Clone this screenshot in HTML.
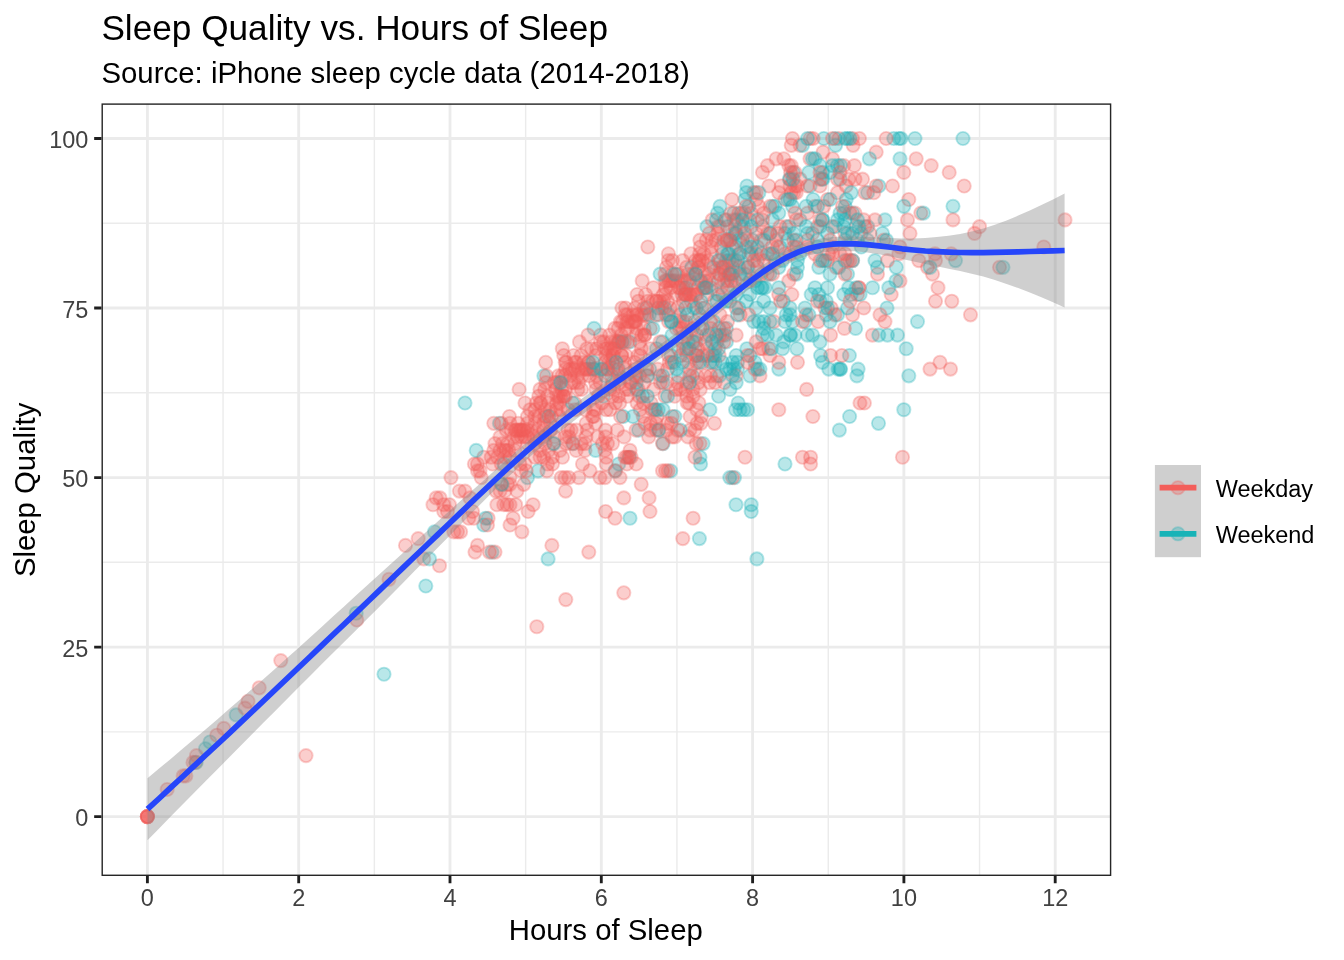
<!DOCTYPE html><html><head><meta charset="utf-8"><title>Sleep Quality vs. Hours of Sleep</title>
<style>html,body{margin:0;padding:0;background:#fff}svg{display:block}text{font-family:"Liberation Sans",sans-serif}.r{fill:#F35E5A;stroke:#F35E5A}.t{fill:#18B1B5;stroke:#18B1B5}.p circle{fill-opacity:.3;stroke-opacity:.3;stroke-width:1.89}.tk{font-size:23.47px;fill:#414141}</style></head><body>
<svg width="1344" height="960" viewBox="0 0 1344 960">
<rect width="1344" height="960" fill="#fff"/>
<defs><clipPath id="cp"><rect x="101.50" y="103.40" width="1009.80" height="772.60"/></clipPath></defs>
<g clip-path="url(#cp)">
<path d="M223.05 103.40V876.00M374.35 103.40V876.00M525.65 103.40V876.00M676.95 103.40V876.00M828.25 103.40V876.00M979.55 103.40V876.00M101.50 731.84H1111.30M101.50 562.31H1111.30M101.50 392.79H1111.30M101.50 223.26H1111.30" stroke="#EBEBEB" stroke-width="1.42" fill="none"/>
<path d="M147.40 103.40V876.00M298.70 103.40V876.00M450.00 103.40V876.00M601.30 103.40V876.00M752.60 103.40V876.00M903.90 103.40V876.00M1055.20 103.40V876.00M101.50 816.60H1111.30M101.50 647.08H1111.30M101.50 477.55H1111.30M101.50 308.03H1111.30M101.50 138.50H1111.30" stroke="#EBEBEB" stroke-width="2.85" fill="none"/>
<g class="p">
<circle class="t" cx="663.0" cy="382.6" r="6.63"/>
<circle class="t" cx="750.0" cy="375.8" r="6.63"/>
<circle class="r" cx="669.2" cy="362.3" r="6.63"/>
<circle class="r" cx="907.5" cy="219.9" r="6.63"/>
<circle class="t" cx="730.0" cy="369.1" r="6.63"/>
<circle class="r" cx="457.5" cy="531.8" r="6.63"/>
<circle class="r" cx="696.7" cy="335.1" r="6.63"/>
<circle class="r" cx="624.1" cy="436.9" r="6.63"/>
<circle class="r" cx="695.5" cy="260.6" r="6.63"/>
<circle class="t" cx="837.6" cy="314.8" r="6.63"/>
<circle class="r" cx="751.2" cy="213.1" r="6.63"/>
<circle class="r" cx="575.1" cy="409.7" r="6.63"/>
<circle class="r" cx="898.8" cy="253.8" r="6.63"/>
<circle class="r" cx="644.0" cy="328.4" r="6.63"/>
<circle class="r" cx="600.7" cy="335.1" r="6.63"/>
<circle class="r" cx="727.5" cy="280.9" r="6.63"/>
<circle class="r" cx="586.2" cy="423.3" r="6.63"/>
<circle class="r" cx="792.5" cy="138.5" r="6.63"/>
<circle class="t" cx="882.5" cy="233.4" r="6.63"/>
<circle class="r" cx="705.3" cy="375.8" r="6.63"/>
<circle class="t" cx="847.6" cy="274.1" r="6.63"/>
<circle class="t" cx="742.5" cy="240.2" r="6.63"/>
<circle class="r" cx="712.7" cy="362.3" r="6.63"/>
<circle class="r" cx="837.5" cy="192.7" r="6.63"/>
<circle class="r" cx="561.2" cy="477.6" r="6.63"/>
<circle class="r" cx="570.3" cy="375.8" r="6.63"/>
<circle class="t" cx="917.5" cy="321.6" r="6.63"/>
<circle class="r" cx="770.0" cy="355.5" r="6.63"/>
<circle class="r" cx="704.1" cy="287.7" r="6.63"/>
<circle class="r" cx="593.2" cy="369.1" r="6.63"/>
<circle class="t" cx="670.7" cy="470.8" r="6.63"/>
<circle class="r" cx="597.8" cy="436.9" r="6.63"/>
<circle class="t" cx="710.3" cy="362.3" r="6.63"/>
<circle class="r" cx="472.5" cy="511.5" r="6.63"/>
<circle class="r" cx="852.5" cy="260.6" r="6.63"/>
<circle class="r" cx="717.9" cy="226.7" r="6.63"/>
<circle class="r" cx="600.0" cy="477.6" r="6.63"/>
<circle class="t" cx="756.9" cy="558.9" r="6.63"/>
<circle class="r" cx="768.8" cy="186.0" r="6.63"/>
<circle class="t" cx="821.9" cy="179.2" r="6.63"/>
<circle class="t" cx="715.0" cy="355.5" r="6.63"/>
<circle class="r" cx="627.4" cy="314.8" r="6.63"/>
<circle class="t" cx="800.0" cy="219.9" r="6.63"/>
<circle class="r" cx="552.5" cy="457.2" r="6.63"/>
<circle class="r" cx="595.8" cy="369.1" r="6.63"/>
<circle class="t" cx="499.4" cy="423.3" r="6.63"/>
<circle class="t" cx="722.5" cy="267.3" r="6.63"/>
<circle class="r" cx="716.8" cy="375.8" r="6.63"/>
<circle class="r" cx="857.5" cy="240.2" r="6.63"/>
<circle class="r" cx="562.1" cy="375.8" r="6.63"/>
<circle class="t" cx="818.8" cy="267.3" r="6.63"/>
<circle class="r" cx="593.6" cy="409.7" r="6.63"/>
<circle class="r" cx="493.8" cy="423.3" r="6.63"/>
<circle class="r" cx="795.0" cy="186.0" r="6.63"/>
<circle class="t" cx="684.7" cy="294.5" r="6.63"/>
<circle class="r" cx="650.3" cy="328.4" r="6.63"/>
<circle class="r" cx="800.0" cy="145.3" r="6.63"/>
<circle class="r" cx="619.6" cy="375.8" r="6.63"/>
<circle class="t" cx="663.1" cy="443.6" r="6.63"/>
<circle class="t" cx="715.0" cy="348.7" r="6.63"/>
<circle class="r" cx="617.3" cy="430.1" r="6.63"/>
<circle class="t" cx="820.1" cy="301.2" r="6.63"/>
<circle class="r" cx="459.4" cy="491.1" r="6.63"/>
<circle class="t" cx="867.6" cy="192.7" r="6.63"/>
<circle class="r" cx="683.4" cy="287.7" r="6.63"/>
<circle class="r" cx="627.5" cy="396.2" r="6.63"/>
<circle class="r" cx="666.7" cy="430.1" r="6.63"/>
<circle class="t" cx="772.6" cy="206.3" r="6.63"/>
<circle class="r" cx="733.8" cy="219.9" r="6.63"/>
<circle class="r" cx="592.5" cy="416.5" r="6.63"/>
<circle class="r" cx="865.0" cy="192.7" r="6.63"/>
<circle class="t" cx="727.5" cy="226.7" r="6.63"/>
<circle class="r" cx="543.7" cy="423.3" r="6.63"/>
<circle class="t" cx="755.0" cy="362.3" r="6.63"/>
<circle class="r" cx="761.2" cy="240.2" r="6.63"/>
<circle class="t" cx="573.1" cy="443.6" r="6.63"/>
<circle class="t" cx="790.0" cy="308.0" r="6.63"/>
<circle class="r" cx="853.1" cy="145.3" r="6.63"/>
<circle class="t" cx="728.9" cy="260.6" r="6.63"/>
<circle class="r" cx="662.5" cy="443.6" r="6.63"/>
<circle class="t" cx="878.5" cy="423.3" r="6.63"/>
<circle class="t" cx="840.6" cy="369.1" r="6.63"/>
<circle class="r" cx="585.4" cy="409.7" r="6.63"/>
<circle class="t" cx="527.5" cy="477.6" r="6.63"/>
<circle class="t" cx="734.5" cy="477.6" r="6.63"/>
<circle class="t" cx="434.5" cy="531.8" r="6.63"/>
<circle class="r" cx="687.2" cy="403.0" r="6.63"/>
<circle class="t" cx="688.3" cy="341.9" r="6.63"/>
<circle class="r" cx="680.0" cy="321.6" r="6.63"/>
<circle class="r" cx="559.5" cy="403.0" r="6.63"/>
<circle class="r" cx="793.8" cy="274.1" r="6.63"/>
<circle class="r" cx="547.5" cy="464.0" r="6.63"/>
<circle class="t" cx="671.0" cy="355.5" r="6.63"/>
<circle class="r" cx="852.5" cy="314.8" r="6.63"/>
<circle class="t" cx="638.6" cy="430.1" r="6.63"/>
<circle class="r" cx="611.8" cy="375.8" r="6.63"/>
<circle class="r" cx="405.5" cy="545.4" r="6.63"/>
<circle class="r" cx="655.6" cy="409.7" r="6.63"/>
<circle class="r" cx="702.2" cy="260.6" r="6.63"/>
<circle class="t" cx="704.6" cy="308.0" r="6.63"/>
<circle class="r" cx="693.7" cy="308.0" r="6.63"/>
<circle class="r" cx="535.0" cy="457.2" r="6.63"/>
<circle class="r" cx="423.8" cy="558.9" r="6.63"/>
<circle class="t" cx="750.0" cy="355.5" r="6.63"/>
<circle class="t" cx="695.8" cy="341.9" r="6.63"/>
<circle class="r" cx="707.4" cy="348.7" r="6.63"/>
<circle class="r" cx="568.1" cy="409.7" r="6.63"/>
<circle class="r" cx="638.3" cy="389.4" r="6.63"/>
<circle class="t" cx="763.8" cy="328.4" r="6.63"/>
<circle class="t" cx="730.1" cy="240.2" r="6.63"/>
<circle class="t" cx="732.4" cy="260.6" r="6.63"/>
<circle class="t" cx="878.9" cy="186.0" r="6.63"/>
<circle class="r" cx="757.5" cy="247.0" r="6.63"/>
<circle class="r" cx="195.6" cy="762.4" r="6.63"/>
<circle class="r" cx="832.5" cy="158.8" r="6.63"/>
<circle class="t" cx="867.6" cy="226.7" r="6.63"/>
<circle class="r" cx="589.9" cy="369.1" r="6.63"/>
<circle class="t" cx="690.1" cy="280.9" r="6.63"/>
<circle class="r" cx="656.0" cy="430.1" r="6.63"/>
<circle class="t" cx="629.5" cy="457.2" r="6.63"/>
<circle class="t" cx="703.1" cy="443.6" r="6.63"/>
<circle class="r" cx="603.0" cy="369.1" r="6.63"/>
<circle class="r" cx="619.7" cy="403.0" r="6.63"/>
<circle class="t" cx="855.6" cy="328.4" r="6.63"/>
<circle class="r" cx="750.0" cy="219.9" r="6.63"/>
<circle class="t" cx="738.8" cy="240.2" r="6.63"/>
<circle class="t" cx="823.8" cy="138.5" r="6.63"/>
<circle class="r" cx="543.8" cy="457.2" r="6.63"/>
<circle class="t" cx="846.2" cy="199.5" r="6.63"/>
<circle class="r" cx="681.1" cy="280.9" r="6.63"/>
<circle class="t" cx="845.1" cy="206.3" r="6.63"/>
<circle class="t" cx="797.5" cy="260.6" r="6.63"/>
<circle class="r" cx="675.3" cy="280.9" r="6.63"/>
<circle class="r" cx="873.8" cy="192.7" r="6.63"/>
<circle class="r" cx="908.8" cy="199.5" r="6.63"/>
<circle class="r" cx="891.2" cy="294.5" r="6.63"/>
<circle class="r" cx="468.8" cy="518.2" r="6.63"/>
<circle class="r" cx="582.3" cy="375.8" r="6.63"/>
<circle class="r" cx="147.4" cy="816.6" r="6.63"/>
<circle class="t" cx="845.0" cy="240.2" r="6.63"/>
<circle class="r" cx="548.5" cy="403.0" r="6.63"/>
<circle class="r" cx="763.8" cy="213.1" r="6.63"/>
<circle class="t" cx="538.1" cy="470.8" r="6.63"/>
<circle class="t" cx="646.5" cy="308.0" r="6.63"/>
<circle class="t" cx="594.0" cy="328.4" r="6.63"/>
<circle class="r" cx="702.5" cy="362.3" r="6.63"/>
<circle class="r" cx="554.6" cy="436.9" r="6.63"/>
<circle class="r" cx="836.2" cy="267.3" r="6.63"/>
<circle class="r" cx="902.5" cy="457.2" r="6.63"/>
<circle class="t" cx="713.6" cy="267.3" r="6.63"/>
<circle class="r" cx="589.3" cy="375.8" r="6.63"/>
<circle class="r" cx="827.6" cy="260.6" r="6.63"/>
<circle class="t" cx="823.0" cy="179.2" r="6.63"/>
<circle class="r" cx="492.5" cy="464.0" r="6.63"/>
<circle class="r" cx="720.0" cy="226.7" r="6.63"/>
<circle class="t" cx="903.8" cy="206.3" r="6.63"/>
<circle class="r" cx="443.8" cy="511.5" r="6.63"/>
<circle class="t" cx="790.6" cy="335.1" r="6.63"/>
<circle class="t" cx="807.5" cy="335.1" r="6.63"/>
<circle class="r" cx="823.8" cy="206.3" r="6.63"/>
<circle class="r" cx="883.8" cy="240.2" r="6.63"/>
<circle class="r" cx="585.0" cy="450.4" r="6.63"/>
<circle class="r" cx="637.1" cy="403.0" r="6.63"/>
<circle class="r" cx="649.1" cy="497.9" r="6.63"/>
<circle class="t" cx="852.6" cy="260.6" r="6.63"/>
<circle class="t" cx="747.5" cy="409.7" r="6.63"/>
<circle class="t" cx="802.6" cy="145.3" r="6.63"/>
<circle class="r" cx="636.5" cy="328.4" r="6.63"/>
<circle class="r" cx="605.2" cy="362.3" r="6.63"/>
<circle class="r" cx="571.2" cy="382.6" r="6.63"/>
<circle class="r" cx="618.5" cy="396.2" r="6.63"/>
<circle class="t" cx="678.3" cy="348.7" r="6.63"/>
<circle class="r" cx="791.2" cy="192.7" r="6.63"/>
<circle class="t" cx="852.6" cy="213.1" r="6.63"/>
<circle class="r" cx="815.0" cy="253.8" r="6.63"/>
<circle class="r" cx="665.0" cy="396.2" r="6.63"/>
<circle class="r" cx="581.2" cy="443.6" r="6.63"/>
<circle class="r" cx="638.4" cy="301.2" r="6.63"/>
<circle class="r" cx="185.8" cy="775.9" r="6.63"/>
<circle class="r" cx="699.7" cy="253.8" r="6.63"/>
<circle class="r" cx="595.7" cy="355.5" r="6.63"/>
<circle class="r" cx="815.0" cy="206.3" r="6.63"/>
<circle class="t" cx="955.5" cy="260.6" r="6.63"/>
<circle class="r" cx="810.1" cy="138.5" r="6.63"/>
<circle class="t" cx="840.1" cy="179.2" r="6.63"/>
<circle class="t" cx="785.0" cy="464.0" r="6.63"/>
<circle class="r" cx="838.8" cy="138.5" r="6.63"/>
<circle class="r" cx="521.2" cy="430.1" r="6.63"/>
<circle class="t" cx="838.9" cy="267.3" r="6.63"/>
<circle class="r" cx="701.4" cy="416.5" r="6.63"/>
<circle class="t" cx="384.0" cy="674.2" r="6.63"/>
<circle class="t" cx="686.0" cy="287.7" r="6.63"/>
<circle class="r" cx="746.2" cy="247.0" r="6.63"/>
<circle class="t" cx="603.2" cy="396.2" r="6.63"/>
<circle class="t" cx="770.1" cy="233.4" r="6.63"/>
<circle class="r" cx="999.5" cy="267.3" r="6.63"/>
<circle class="t" cx="686.3" cy="348.7" r="6.63"/>
<circle class="r" cx="488.1" cy="518.2" r="6.63"/>
<circle class="r" cx="509.4" cy="416.5" r="6.63"/>
<circle class="r" cx="732.5" cy="477.6" r="6.63"/>
<circle class="r" cx="756.2" cy="199.5" r="6.63"/>
<circle class="r" cx="700.1" cy="328.4" r="6.63"/>
<circle class="r" cx="827.5" cy="199.5" r="6.63"/>
<circle class="r" cx="535.0" cy="409.7" r="6.63"/>
<circle class="r" cx="682.1" cy="294.5" r="6.63"/>
<circle class="r" cx="439.5" cy="565.7" r="6.63"/>
<circle class="r" cx="810.0" cy="158.8" r="6.63"/>
<circle class="r" cx="677.7" cy="308.0" r="6.63"/>
<circle class="t" cx="465.0" cy="403.0" r="6.63"/>
<circle class="r" cx="544.8" cy="436.9" r="6.63"/>
<circle class="r" cx="704.0" cy="253.8" r="6.63"/>
<circle class="t" cx="805.1" cy="321.6" r="6.63"/>
<circle class="r" cx="762.6" cy="348.7" r="6.63"/>
<circle class="r" cx="691.1" cy="301.2" r="6.63"/>
<circle class="r" cx="550.5" cy="430.1" r="6.63"/>
<circle class="r" cx="862.5" cy="179.2" r="6.63"/>
<circle class="r" cx="660.1" cy="375.8" r="6.63"/>
<circle class="r" cx="672.1" cy="274.1" r="6.63"/>
<circle class="r" cx="688.0" cy="436.9" r="6.63"/>
<circle class="r" cx="680.1" cy="314.8" r="6.63"/>
<circle class="r" cx="935.5" cy="260.6" r="6.63"/>
<circle class="r" cx="892.5" cy="186.0" r="6.63"/>
<circle class="r" cx="663.3" cy="294.5" r="6.63"/>
<circle class="r" cx="533.1" cy="504.7" r="6.63"/>
<circle class="r" cx="778.8" cy="409.7" r="6.63"/>
<circle class="t" cx="593.5" cy="369.1" r="6.63"/>
<circle class="t" cx="629.8" cy="341.9" r="6.63"/>
<circle class="t" cx="843.8" cy="294.5" r="6.63"/>
<circle class="r" cx="595.5" cy="423.3" r="6.63"/>
<circle class="t" cx="738.1" cy="403.0" r="6.63"/>
<circle class="r" cx="689.2" cy="294.5" r="6.63"/>
<circle class="t" cx="733.9" cy="213.1" r="6.63"/>
<circle class="r" cx="501.2" cy="423.3" r="6.63"/>
<circle class="t" cx="845.0" cy="260.6" r="6.63"/>
<circle class="r" cx="503.8" cy="504.7" r="6.63"/>
<circle class="r" cx="831.2" cy="308.0" r="6.63"/>
<circle class="t" cx="712.7" cy="355.5" r="6.63"/>
<circle class="r" cx="513.8" cy="436.9" r="6.63"/>
<circle class="r" cx="682.3" cy="341.9" r="6.63"/>
<circle class="t" cx="1003.0" cy="267.3" r="6.63"/>
<circle class="t" cx="210.0" cy="742.0" r="6.63"/>
<circle class="r" cx="812.5" cy="233.4" r="6.63"/>
<circle class="r" cx="670.3" cy="280.9" r="6.63"/>
<circle class="r" cx="830.6" cy="355.5" r="6.63"/>
<circle class="r" cx="665.1" cy="280.9" r="6.63"/>
<circle class="t" cx="619.0" cy="341.9" r="6.63"/>
<circle class="r" cx="823.1" cy="152.1" r="6.63"/>
<circle class="r" cx="474.4" cy="464.0" r="6.63"/>
<circle class="t" cx="763.8" cy="301.2" r="6.63"/>
<circle class="r" cx="550.1" cy="409.7" r="6.63"/>
<circle class="r" cx="613.0" cy="369.1" r="6.63"/>
<circle class="r" cx="493.8" cy="450.4" r="6.63"/>
<circle class="t" cx="543.9" cy="375.8" r="6.63"/>
<circle class="r" cx="848.8" cy="179.2" r="6.63"/>
<circle class="r" cx="751.2" cy="253.8" r="6.63"/>
<circle class="t" cx="636.1" cy="375.8" r="6.63"/>
<circle class="r" cx="682.6" cy="260.6" r="6.63"/>
<circle class="t" cx="722.5" cy="253.8" r="6.63"/>
<circle class="t" cx="755.0" cy="280.9" r="6.63"/>
<circle class="r" cx="690.5" cy="294.5" r="6.63"/>
<circle class="t" cx="839.4" cy="430.1" r="6.63"/>
<circle class="r" cx="717.0" cy="341.9" r="6.63"/>
<circle class="r" cx="735.0" cy="287.7" r="6.63"/>
<circle class="r" cx="790.0" cy="179.2" r="6.63"/>
<circle class="r" cx="635.0" cy="321.6" r="6.63"/>
<circle class="t" cx="678.4" cy="375.8" r="6.63"/>
<circle class="r" cx="690.0" cy="430.1" r="6.63"/>
<circle class="r" cx="433.0" cy="504.7" r="6.63"/>
<circle class="r" cx="646.8" cy="314.8" r="6.63"/>
<circle class="r" cx="696.2" cy="443.6" r="6.63"/>
<circle class="t" cx="654.4" cy="409.7" r="6.63"/>
<circle class="r" cx="603.7" cy="341.9" r="6.63"/>
<circle class="r" cx="732.6" cy="274.1" r="6.63"/>
<circle class="r" cx="567.9" cy="430.1" r="6.63"/>
<circle class="r" cx="741.2" cy="226.7" r="6.63"/>
<circle class="r" cx="708.1" cy="260.6" r="6.63"/>
<circle class="r" cx="447.5" cy="511.5" r="6.63"/>
<circle class="r" cx="720.0" cy="314.8" r="6.63"/>
<circle class="r" cx="695.8" cy="274.1" r="6.63"/>
<circle class="r" cx="559.2" cy="382.6" r="6.63"/>
<circle class="r" cx="683.7" cy="348.7" r="6.63"/>
<circle class="r" cx="672.6" cy="280.9" r="6.63"/>
<circle class="r" cx="641.8" cy="314.8" r="6.63"/>
<circle class="r" cx="817.5" cy="226.7" r="6.63"/>
<circle class="r" cx="702.6" cy="355.5" r="6.63"/>
<circle class="t" cx="810.1" cy="186.0" r="6.63"/>
<circle class="r" cx="621.5" cy="341.9" r="6.63"/>
<circle class="r" cx="785.0" cy="253.8" r="6.63"/>
<circle class="t" cx="636.3" cy="382.6" r="6.63"/>
<circle class="r" cx="756.2" cy="253.8" r="6.63"/>
<circle class="t" cx="700.6" cy="464.0" r="6.63"/>
<circle class="r" cx="732.5" cy="233.4" r="6.63"/>
<circle class="r" cx="705.1" cy="274.1" r="6.63"/>
<circle class="r" cx="674.8" cy="396.2" r="6.63"/>
<circle class="t" cx="652.9" cy="328.4" r="6.63"/>
<circle class="r" cx="554.5" cy="382.6" r="6.63"/>
<circle class="t" cx="756.2" cy="308.0" r="6.63"/>
<circle class="r" cx="865.0" cy="226.7" r="6.63"/>
<circle class="t" cx="770.0" cy="233.4" r="6.63"/>
<circle class="r" cx="807.5" cy="186.0" r="6.63"/>
<circle class="t" cx="548.1" cy="558.9" r="6.63"/>
<circle class="t" cx="741.4" cy="213.1" r="6.63"/>
<circle class="r" cx="477.5" cy="464.0" r="6.63"/>
<circle class="r" cx="630.1" cy="382.6" r="6.63"/>
<circle class="r" cx="783.8" cy="158.8" r="6.63"/>
<circle class="t" cx="729.8" cy="477.6" r="6.63"/>
<circle class="r" cx="807.5" cy="213.1" r="6.63"/>
<circle class="r" cx="877.5" cy="274.1" r="6.63"/>
<circle class="r" cx="586.7" cy="369.1" r="6.63"/>
<circle class="r" cx="633.2" cy="314.8" r="6.63"/>
<circle class="t" cx="692.3" cy="375.8" r="6.63"/>
<circle class="r" cx="620.0" cy="477.6" r="6.63"/>
<circle class="r" cx="565.8" cy="599.6" r="6.63"/>
<circle class="t" cx="896.2" cy="267.3" r="6.63"/>
<circle class="t" cx="691.7" cy="267.3" r="6.63"/>
<circle class="r" cx="535.0" cy="416.5" r="6.63"/>
<circle class="r" cx="612.7" cy="382.6" r="6.63"/>
<circle class="r" cx="607.4" cy="369.1" r="6.63"/>
<circle class="r" cx="586.0" cy="436.9" r="6.63"/>
<circle class="r" cx="610.0" cy="409.7" r="6.63"/>
<circle class="r" cx="453.8" cy="531.8" r="6.63"/>
<circle class="r" cx="796.2" cy="192.7" r="6.63"/>
<circle class="r" cx="560.6" cy="396.2" r="6.63"/>
<circle class="r" cx="790.0" cy="186.0" r="6.63"/>
<circle class="t" cx="793.2" cy="172.4" r="6.63"/>
<circle class="r" cx="280.8" cy="660.6" r="6.63"/>
<circle class="t" cx="725.1" cy="335.1" r="6.63"/>
<circle class="r" cx="625.4" cy="389.4" r="6.63"/>
<circle class="r" cx="724.2" cy="382.6" r="6.63"/>
<circle class="r" cx="850.0" cy="213.1" r="6.63"/>
<circle class="t" cx="763.8" cy="321.6" r="6.63"/>
<circle class="t" cx="885.0" cy="219.9" r="6.63"/>
<circle class="r" cx="465.0" cy="491.1" r="6.63"/>
<circle class="r" cx="693.2" cy="294.5" r="6.63"/>
<circle class="r" cx="540.0" cy="403.0" r="6.63"/>
<circle class="r" cx="540.9" cy="403.0" r="6.63"/>
<circle class="r" cx="625.1" cy="314.8" r="6.63"/>
<circle class="t" cx="718.9" cy="328.4" r="6.63"/>
<circle class="t" cx="699.6" cy="314.8" r="6.63"/>
<circle class="r" cx="696.8" cy="362.3" r="6.63"/>
<circle class="r" cx="510.0" cy="423.3" r="6.63"/>
<circle class="t" cx="618.8" cy="464.0" r="6.63"/>
<circle class="r" cx="614.8" cy="348.7" r="6.63"/>
<circle class="r" cx="667.5" cy="301.2" r="6.63"/>
<circle class="t" cx="738.9" cy="308.0" r="6.63"/>
<circle class="t" cx="737.5" cy="369.1" r="6.63"/>
<circle class="r" cx="630.0" cy="450.4" r="6.63"/>
<circle class="r" cx="709.2" cy="280.9" r="6.63"/>
<circle class="t" cx="649.6" cy="369.1" r="6.63"/>
<circle class="t" cx="706.9" cy="226.7" r="6.63"/>
<circle class="t" cx="762.5" cy="287.7" r="6.63"/>
<circle class="r" cx="857.5" cy="294.5" r="6.63"/>
<circle class="t" cx="718.4" cy="280.9" r="6.63"/>
<circle class="t" cx="483.8" cy="525.0" r="6.63"/>
<circle class="r" cx="753.8" cy="192.7" r="6.63"/>
<circle class="r" cx="845.0" cy="233.4" r="6.63"/>
<circle class="r" cx="574.1" cy="382.6" r="6.63"/>
<circle class="r" cx="500.0" cy="491.1" r="6.63"/>
<circle class="t" cx="658.3" cy="308.0" r="6.63"/>
<circle class="r" cx="876.2" cy="152.1" r="6.63"/>
<circle class="t" cx="485.6" cy="518.2" r="6.63"/>
<circle class="r" cx="697.2" cy="423.3" r="6.63"/>
<circle class="r" cx="800.0" cy="179.2" r="6.63"/>
<circle class="t" cx="662.6" cy="341.9" r="6.63"/>
<circle class="t" cx="719.4" cy="375.8" r="6.63"/>
<circle class="r" cx="569.0" cy="436.9" r="6.63"/>
<circle class="r" cx="662.5" cy="470.8" r="6.63"/>
<circle class="r" cx="748.8" cy="314.8" r="6.63"/>
<circle class="r" cx="682.8" cy="538.6" r="6.63"/>
<circle class="t" cx="636.7" cy="389.4" r="6.63"/>
<circle class="t" cx="736.2" cy="247.0" r="6.63"/>
<circle class="r" cx="732.5" cy="247.0" r="6.63"/>
<circle class="r" cx="551.9" cy="545.4" r="6.63"/>
<circle class="t" cx="615.0" cy="470.8" r="6.63"/>
<circle class="r" cx="778.8" cy="192.7" r="6.63"/>
<circle class="r" cx="845.0" cy="274.1" r="6.63"/>
<circle class="r" cx="596.5" cy="375.8" r="6.63"/>
<circle class="t" cx="196.2" cy="762.4" r="6.63"/>
<circle class="r" cx="605.8" cy="355.5" r="6.63"/>
<circle class="r" cx="830.6" cy="335.1" r="6.63"/>
<circle class="r" cx="536.2" cy="403.0" r="6.63"/>
<circle class="t" cx="731.4" cy="274.1" r="6.63"/>
<circle class="r" cx="668.5" cy="321.6" r="6.63"/>
<circle class="t" cx="825.0" cy="260.6" r="6.63"/>
<circle class="r" cx="709.7" cy="382.6" r="6.63"/>
<circle class="t" cx="767.5" cy="335.1" r="6.63"/>
<circle class="t" cx="736.4" cy="219.9" r="6.63"/>
<circle class="t" cx="900.0" cy="158.8" r="6.63"/>
<circle class="r" cx="519.1" cy="389.4" r="6.63"/>
<circle class="r" cx="507.5" cy="443.6" r="6.63"/>
<circle class="r" cx="719.1" cy="355.5" r="6.63"/>
<circle class="t" cx="713.5" cy="321.6" r="6.63"/>
<circle class="r" cx="686.6" cy="267.3" r="6.63"/>
<circle class="t" cx="872.5" cy="287.7" r="6.63"/>
<circle class="r" cx="762.5" cy="226.7" r="6.63"/>
<circle class="r" cx="785.0" cy="199.5" r="6.63"/>
<circle class="r" cx="726.2" cy="260.6" r="6.63"/>
<circle class="t" cx="746.2" cy="301.2" r="6.63"/>
<circle class="t" cx="828.8" cy="369.1" r="6.63"/>
<circle class="t" cx="822.6" cy="219.9" r="6.63"/>
<circle class="r" cx="695.1" cy="355.5" r="6.63"/>
<circle class="r" cx="631.1" cy="382.6" r="6.63"/>
<circle class="r" cx="606.8" cy="348.7" r="6.63"/>
<circle class="r" cx="930.0" cy="369.1" r="6.63"/>
<circle class="r" cx="711.4" cy="253.8" r="6.63"/>
<circle class="r" cx="505.0" cy="457.2" r="6.63"/>
<circle class="r" cx="527.5" cy="430.1" r="6.63"/>
<circle class="t" cx="840.0" cy="213.1" r="6.63"/>
<circle class="t" cx="757.5" cy="219.9" r="6.63"/>
<circle class="r" cx="642.2" cy="280.9" r="6.63"/>
<circle class="r" cx="588.2" cy="362.3" r="6.63"/>
<circle class="r" cx="825.0" cy="308.0" r="6.63"/>
<circle class="r" cx="676.3" cy="328.4" r="6.63"/>
<circle class="t" cx="858.1" cy="369.1" r="6.63"/>
<circle class="t" cx="837.5" cy="165.6" r="6.63"/>
<circle class="t" cx="717.5" cy="213.1" r="6.63"/>
<circle class="r" cx="651.8" cy="409.7" r="6.63"/>
<circle class="r" cx="540.0" cy="450.4" r="6.63"/>
<circle class="t" cx="843.8" cy="213.1" r="6.63"/>
<circle class="r" cx="521.2" cy="436.9" r="6.63"/>
<circle class="t" cx="796.9" cy="348.7" r="6.63"/>
<circle class="t" cx="595.6" cy="450.4" r="6.63"/>
<circle class="r" cx="650.0" cy="430.1" r="6.63"/>
<circle class="r" cx="698.0" cy="287.7" r="6.63"/>
<circle class="r" cx="662.1" cy="308.0" r="6.63"/>
<circle class="r" cx="596.7" cy="348.7" r="6.63"/>
<circle class="t" cx="503.9" cy="464.0" r="6.63"/>
<circle class="r" cx="640.4" cy="355.5" r="6.63"/>
<circle class="t" cx="835.1" cy="226.7" r="6.63"/>
<circle class="r" cx="641.2" cy="484.3" r="6.63"/>
<circle class="r" cx="544.7" cy="389.4" r="6.63"/>
<circle class="r" cx="521.9" cy="531.8" r="6.63"/>
<circle class="t" cx="869.4" cy="158.8" r="6.63"/>
<circle class="t" cx="886.4" cy="240.2" r="6.63"/>
<circle class="r" cx="477.5" cy="545.4" r="6.63"/>
<circle class="r" cx="852.5" cy="138.5" r="6.63"/>
<circle class="r" cx="665.6" cy="470.8" r="6.63"/>
<circle class="r" cx="680.1" cy="389.4" r="6.63"/>
<circle class="r" cx="615.3" cy="403.0" r="6.63"/>
<circle class="t" cx="664.7" cy="308.0" r="6.63"/>
<circle class="r" cx="900.0" cy="247.0" r="6.63"/>
<circle class="r" cx="668.4" cy="355.5" r="6.63"/>
<circle class="r" cx="697.0" cy="294.5" r="6.63"/>
<circle class="r" cx="722.5" cy="335.1" r="6.63"/>
<circle class="r" cx="672.3" cy="416.5" r="6.63"/>
<circle class="r" cx="665.6" cy="287.7" r="6.63"/>
<circle class="r" cx="647.0" cy="375.8" r="6.63"/>
<circle class="t" cx="787.6" cy="199.5" r="6.63"/>
<circle class="r" cx="483.8" cy="457.2" r="6.63"/>
<circle class="t" cx="740.0" cy="409.7" r="6.63"/>
<circle class="r" cx="626.9" cy="321.6" r="6.63"/>
<circle class="r" cx="689.7" cy="375.8" r="6.63"/>
<circle class="r" cx="621.5" cy="355.5" r="6.63"/>
<circle class="t" cx="720.0" cy="206.3" r="6.63"/>
<circle class="r" cx="614.8" cy="341.9" r="6.63"/>
<circle class="r" cx="510.0" cy="477.6" r="6.63"/>
<circle class="r" cx="718.9" cy="274.1" r="6.63"/>
<circle class="r" cx="553.1" cy="443.6" r="6.63"/>
<circle class="r" cx="507.5" cy="484.3" r="6.63"/>
<circle class="r" cx="625.6" cy="308.0" r="6.63"/>
<circle class="r" cx="636.2" cy="464.0" r="6.63"/>
<circle class="t" cx="815.0" cy="158.8" r="6.63"/>
<circle class="r" cx="601.9" cy="403.0" r="6.63"/>
<circle class="r" cx="843.8" cy="165.6" r="6.63"/>
<circle class="r" cx="565.0" cy="436.9" r="6.63"/>
<circle class="t" cx="425.8" cy="586.0" r="6.63"/>
<circle class="r" cx="707.4" cy="294.5" r="6.63"/>
<circle class="t" cx="820.6" cy="355.5" r="6.63"/>
<circle class="t" cx="649.4" cy="314.8" r="6.63"/>
<circle class="r" cx="786.2" cy="226.7" r="6.63"/>
<circle class="r" cx="635.2" cy="369.1" r="6.63"/>
<circle class="t" cx="745.0" cy="199.5" r="6.63"/>
<circle class="t" cx="848.8" cy="287.7" r="6.63"/>
<circle class="t" cx="796.4" cy="240.2" r="6.63"/>
<circle class="t" cx="875.0" cy="260.6" r="6.63"/>
<circle class="r" cx="950.5" cy="369.1" r="6.63"/>
<circle class="t" cx="746.9" cy="348.7" r="6.63"/>
<circle class="r" cx="856.2" cy="226.7" r="6.63"/>
<circle class="r" cx="636.0" cy="430.1" r="6.63"/>
<circle class="r" cx="700.2" cy="247.0" r="6.63"/>
<circle class="r" cx="436.2" cy="497.9" r="6.63"/>
<circle class="r" cx="767.5" cy="274.1" r="6.63"/>
<circle class="r" cx="585.5" cy="369.1" r="6.63"/>
<circle class="r" cx="555.5" cy="389.4" r="6.63"/>
<circle class="r" cx="793.8" cy="192.7" r="6.63"/>
<circle class="t" cx="852.5" cy="233.4" r="6.63"/>
<circle class="r" cx="183.2" cy="775.9" r="6.63"/>
<circle class="r" cx="546.5" cy="375.8" r="6.63"/>
<circle class="r" cx="694.9" cy="321.6" r="6.63"/>
<circle class="r" cx="768.8" cy="348.7" r="6.63"/>
<circle class="r" cx="711.6" cy="247.0" r="6.63"/>
<circle class="r" cx="721.2" cy="247.0" r="6.63"/>
<circle class="r" cx="503.8" cy="450.4" r="6.63"/>
<circle class="r" cx="690.1" cy="416.5" r="6.63"/>
<circle class="r" cx="745.0" cy="267.3" r="6.63"/>
<circle class="r" cx="588.9" cy="362.3" r="6.63"/>
<circle class="t" cx="737.5" cy="362.3" r="6.63"/>
<circle class="r" cx="648.0" cy="301.2" r="6.63"/>
<circle class="r" cx="620.4" cy="321.6" r="6.63"/>
<circle class="t" cx="672.1" cy="335.1" r="6.63"/>
<circle class="r" cx="935.5" cy="301.2" r="6.63"/>
<circle class="r" cx="595.6" cy="382.6" r="6.63"/>
<circle class="r" cx="680.9" cy="355.5" r="6.63"/>
<circle class="r" cx="714.3" cy="301.2" r="6.63"/>
<circle class="t" cx="815.0" cy="287.7" r="6.63"/>
<circle class="r" cx="598.5" cy="396.2" r="6.63"/>
<circle class="r" cx="545.9" cy="382.6" r="6.63"/>
<circle class="r" cx="606.2" cy="457.2" r="6.63"/>
<circle class="r" cx="736.2" cy="375.8" r="6.63"/>
<circle class="t" cx="736.2" cy="294.5" r="6.63"/>
<circle class="t" cx="789.4" cy="179.2" r="6.63"/>
<circle class="r" cx="738.8" cy="253.8" r="6.63"/>
<circle class="r" cx="513.1" cy="518.2" r="6.63"/>
<circle class="r" cx="600.4" cy="341.9" r="6.63"/>
<circle class="r" cx="389.0" cy="579.3" r="6.63"/>
<circle class="r" cx="693.1" cy="518.2" r="6.63"/>
<circle class="r" cx="578.8" cy="477.6" r="6.63"/>
<circle class="t" cx="780.0" cy="247.0" r="6.63"/>
<circle class="t" cx="605.5" cy="375.8" r="6.63"/>
<circle class="r" cx="668.3" cy="260.6" r="6.63"/>
<circle class="r" cx="634.3" cy="321.6" r="6.63"/>
<circle class="t" cx="790.0" cy="335.1" r="6.63"/>
<circle class="r" cx="600.1" cy="382.6" r="6.63"/>
<circle class="r" cx="659.5" cy="301.2" r="6.63"/>
<circle class="t" cx="718.6" cy="348.7" r="6.63"/>
<circle class="r" cx="517.5" cy="436.9" r="6.63"/>
<circle class="t" cx="796.4" cy="247.0" r="6.63"/>
<circle class="t" cx="893.8" cy="138.5" r="6.63"/>
<circle class="r" cx="510.0" cy="504.7" r="6.63"/>
<circle class="r" cx="858.8" cy="287.7" r="6.63"/>
<circle class="t" cx="827.5" cy="287.7" r="6.63"/>
<circle class="r" cx="666.4" cy="267.3" r="6.63"/>
<circle class="r" cx="568.8" cy="477.6" r="6.63"/>
<circle class="t" cx="847.6" cy="233.4" r="6.63"/>
<circle class="r" cx="565.3" cy="389.4" r="6.63"/>
<circle class="r" cx="682.9" cy="321.6" r="6.63"/>
<circle class="r" cx="614.4" cy="389.4" r="6.63"/>
<circle class="r" cx="548.8" cy="450.4" r="6.63"/>
<circle class="r" cx="572.5" cy="443.6" r="6.63"/>
<circle class="t" cx="642.6" cy="396.2" r="6.63"/>
<circle class="t" cx="492.0" cy="552.1" r="6.63"/>
<circle class="r" cx="531.2" cy="430.1" r="6.63"/>
<circle class="r" cx="562.3" cy="348.7" r="6.63"/>
<circle class="r" cx="685.9" cy="321.6" r="6.63"/>
<circle class="r" cx="546.9" cy="470.8" r="6.63"/>
<circle class="t" cx="658.8" cy="314.8" r="6.63"/>
<circle class="t" cx="668.8" cy="314.8" r="6.63"/>
<circle class="r" cx="844.4" cy="328.4" r="6.63"/>
<circle class="r" cx="807.5" cy="247.0" r="6.63"/>
<circle class="t" cx="726.4" cy="341.9" r="6.63"/>
<circle class="r" cx="682.1" cy="328.4" r="6.63"/>
<circle class="r" cx="778.8" cy="294.5" r="6.63"/>
<circle class="r" cx="591.7" cy="348.7" r="6.63"/>
<circle class="r" cx="578.7" cy="382.6" r="6.63"/>
<circle class="t" cx="867.5" cy="240.2" r="6.63"/>
<circle class="r" cx="643.2" cy="416.5" r="6.63"/>
<circle class="t" cx="861.2" cy="233.4" r="6.63"/>
<circle class="t" cx="205.5" cy="748.8" r="6.63"/>
<circle class="r" cx="606.2" cy="464.0" r="6.63"/>
<circle class="r" cx="650.0" cy="511.5" r="6.63"/>
<circle class="t" cx="826.2" cy="314.8" r="6.63"/>
<circle class="r" cx="747.5" cy="355.5" r="6.63"/>
<circle class="t" cx="817.5" cy="247.0" r="6.63"/>
<circle class="r" cx="920.8" cy="213.1" r="6.63"/>
<circle class="t" cx="733.8" cy="369.1" r="6.63"/>
<circle class="t" cx="700.8" cy="280.9" r="6.63"/>
<circle class="r" cx="872.5" cy="335.1" r="6.63"/>
<circle class="r" cx="812.9" cy="416.5" r="6.63"/>
<circle class="r" cx="1065.0" cy="219.9" r="6.63"/>
<circle class="t" cx="813.1" cy="199.5" r="6.63"/>
<circle class="t" cx="748.8" cy="253.8" r="6.63"/>
<circle class="t" cx="787.5" cy="240.2" r="6.63"/>
<circle class="t" cx="706.7" cy="287.7" r="6.63"/>
<circle class="r" cx="518.8" cy="430.1" r="6.63"/>
<circle class="t" cx="726.2" cy="301.2" r="6.63"/>
<circle class="r" cx="562.5" cy="457.2" r="6.63"/>
<circle class="r" cx="719.8" cy="335.1" r="6.63"/>
<circle class="r" cx="806.2" cy="314.8" r="6.63"/>
<circle class="r" cx="602.5" cy="443.6" r="6.63"/>
<circle class="t" cx="897.5" cy="335.1" r="6.63"/>
<circle class="r" cx="656.2" cy="314.8" r="6.63"/>
<circle class="r" cx="634.5" cy="362.3" r="6.63"/>
<circle class="r" cx="451.0" cy="477.6" r="6.63"/>
<circle class="t" cx="757.5" cy="267.3" r="6.63"/>
<circle class="r" cx="910.0" cy="233.4" r="6.63"/>
<circle class="t" cx="752.5" cy="240.2" r="6.63"/>
<circle class="r" cx="755.0" cy="369.1" r="6.63"/>
<circle class="t" cx="709.3" cy="335.1" r="6.63"/>
<circle class="t" cx="727.5" cy="253.8" r="6.63"/>
<circle class="t" cx="696.3" cy="308.0" r="6.63"/>
<circle class="r" cx="640.2" cy="409.7" r="6.63"/>
<circle class="r" cx="608.8" cy="362.3" r="6.63"/>
<circle class="r" cx="571.1" cy="430.1" r="6.63"/>
<circle class="r" cx="443.8" cy="504.7" r="6.63"/>
<circle class="r" cx="870.0" cy="233.4" r="6.63"/>
<circle class="r" cx="731.9" cy="199.5" r="6.63"/>
<circle class="r" cx="621.8" cy="355.5" r="6.63"/>
<circle class="r" cx="846.2" cy="186.0" r="6.63"/>
<circle class="t" cx="723.8" cy="240.2" r="6.63"/>
<circle class="t" cx="630.0" cy="518.2" r="6.63"/>
<circle class="r" cx="418.2" cy="538.6" r="6.63"/>
<circle class="r" cx="949.2" cy="172.4" r="6.63"/>
<circle class="r" cx="634.0" cy="375.8" r="6.63"/>
<circle class="r" cx="489.4" cy="552.1" r="6.63"/>
<circle class="t" cx="236.2" cy="714.9" r="6.63"/>
<circle class="r" cx="644.8" cy="335.1" r="6.63"/>
<circle class="r" cx="565.2" cy="362.3" r="6.63"/>
<circle class="r" cx="606.2" cy="409.7" r="6.63"/>
<circle class="r" cx="659.2" cy="430.1" r="6.63"/>
<circle class="t" cx="718.2" cy="260.6" r="6.63"/>
<circle class="r" cx="694.2" cy="341.9" r="6.63"/>
<circle class="t" cx="782.5" cy="260.6" r="6.63"/>
<circle class="r" cx="525.0" cy="436.9" r="6.63"/>
<circle class="r" cx="707.7" cy="355.5" r="6.63"/>
<circle class="t" cx="812.5" cy="335.1" r="6.63"/>
<circle class="r" cx="605.5" cy="430.1" r="6.63"/>
<circle class="r" cx="560.8" cy="409.7" r="6.63"/>
<circle class="r" cx="698.5" cy="382.6" r="6.63"/>
<circle class="r" cx="758.8" cy="206.3" r="6.63"/>
<circle class="r" cx="607.5" cy="443.6" r="6.63"/>
<circle class="t" cx="618.4" cy="369.1" r="6.63"/>
<circle class="r" cx="477.5" cy="470.8" r="6.63"/>
<circle class="r" cx="495.0" cy="552.1" r="6.63"/>
<circle class="r" cx="700.0" cy="443.6" r="6.63"/>
<circle class="t" cx="826.2" cy="301.2" r="6.63"/>
<circle class="t" cx="692.8" cy="341.9" r="6.63"/>
<circle class="r" cx="813.1" cy="138.5" r="6.63"/>
<circle class="t" cx="356.2" cy="613.2" r="6.63"/>
<circle class="t" cx="806.2" cy="206.3" r="6.63"/>
<circle class="r" cx="1043.8" cy="247.0" r="6.63"/>
<circle class="t" cx="674.9" cy="416.5" r="6.63"/>
<circle class="r" cx="676.8" cy="274.1" r="6.63"/>
<circle class="r" cx="832.5" cy="247.0" r="6.63"/>
<circle class="r" cx="515.0" cy="450.4" r="6.63"/>
<circle class="r" cx="693.1" cy="396.2" r="6.63"/>
<circle class="t" cx="899.0" cy="138.5" r="6.63"/>
<circle class="r" cx="167.2" cy="789.5" r="6.63"/>
<circle class="r" cx="676.5" cy="294.5" r="6.63"/>
<circle class="r" cx="653.7" cy="389.4" r="6.63"/>
<circle class="t" cx="778.8" cy="267.3" r="6.63"/>
<circle class="r" cx="748.8" cy="267.3" r="6.63"/>
<circle class="r" cx="618.2" cy="328.4" r="6.63"/>
<circle class="r" cx="670.6" cy="287.7" r="6.63"/>
<circle class="r" cx="566.2" cy="443.6" r="6.63"/>
<circle class="r" cx="577.8" cy="389.4" r="6.63"/>
<circle class="t" cx="808.8" cy="172.4" r="6.63"/>
<circle class="t" cx="849.6" cy="416.5" r="6.63"/>
<circle class="r" cx="500.0" cy="450.4" r="6.63"/>
<circle class="r" cx="671.9" cy="362.3" r="6.63"/>
<circle class="r" cx="791.9" cy="294.5" r="6.63"/>
<circle class="r" cx="791.2" cy="145.3" r="6.63"/>
<circle class="r" cx="536.8" cy="626.7" r="6.63"/>
<circle class="t" cx="847.5" cy="308.0" r="6.63"/>
<circle class="r" cx="788.8" cy="165.6" r="6.63"/>
<circle class="r" cx="523.8" cy="484.3" r="6.63"/>
<circle class="t" cx="840.6" cy="165.6" r="6.63"/>
<circle class="t" cx="746.2" cy="192.7" r="6.63"/>
<circle class="r" cx="773.8" cy="321.6" r="6.63"/>
<circle class="r" cx="147.4" cy="816.6" r="6.63"/>
<circle class="r" cx="511.2" cy="430.1" r="6.63"/>
<circle class="r" cx="666.4" cy="280.9" r="6.63"/>
<circle class="r" cx="820.0" cy="260.6" r="6.63"/>
<circle class="r" cx="738.8" cy="267.3" r="6.63"/>
<circle class="r" cx="776.2" cy="240.2" r="6.63"/>
<circle class="r" cx="621.2" cy="335.1" r="6.63"/>
<circle class="r" cx="698.2" cy="280.9" r="6.63"/>
<circle class="t" cx="827.6" cy="308.0" r="6.63"/>
<circle class="r" cx="712.2" cy="219.9" r="6.63"/>
<circle class="t" cx="795.0" cy="335.1" r="6.63"/>
<circle class="r" cx="544.8" cy="409.7" r="6.63"/>
<circle class="r" cx="621.9" cy="308.0" r="6.63"/>
<circle class="r" cx="613.3" cy="355.5" r="6.63"/>
<circle class="r" cx="900.0" cy="280.9" r="6.63"/>
<circle class="r" cx="720.5" cy="267.3" r="6.63"/>
<circle class="t" cx="699.4" cy="362.3" r="6.63"/>
<circle class="r" cx="835.0" cy="314.8" r="6.63"/>
<circle class="r" cx="583.6" cy="362.3" r="6.63"/>
<circle class="r" cx="974.5" cy="233.4" r="6.63"/>
<circle class="t" cx="680.4" cy="430.1" r="6.63"/>
<circle class="r" cx="710.7" cy="321.6" r="6.63"/>
<circle class="r" cx="687.5" cy="280.9" r="6.63"/>
<circle class="r" cx="665.5" cy="294.5" r="6.63"/>
<circle class="t" cx="778.8" cy="213.1" r="6.63"/>
<circle class="r" cx="710.7" cy="328.4" r="6.63"/>
<circle class="r" cx="711.2" cy="287.7" r="6.63"/>
<circle class="r" cx="745.0" cy="274.1" r="6.63"/>
<circle class="t" cx="793.0" cy="179.2" r="6.63"/>
<circle class="t" cx="783.2" cy="301.2" r="6.63"/>
<circle class="t" cx="757.5" cy="287.7" r="6.63"/>
<circle class="r" cx="859.4" cy="138.5" r="6.63"/>
<circle class="r" cx="750.0" cy="280.9" r="6.63"/>
<circle class="t" cx="792.5" cy="206.3" r="6.63"/>
<circle class="r" cx="510.0" cy="484.3" r="6.63"/>
<circle class="t" cx="700.0" cy="457.2" r="6.63"/>
<circle class="r" cx="538.8" cy="396.2" r="6.63"/>
<circle class="r" cx="832.5" cy="226.7" r="6.63"/>
<circle class="r" cx="609.6" cy="335.1" r="6.63"/>
<circle class="r" cx="558.5" cy="396.2" r="6.63"/>
<circle class="r" cx="685.8" cy="389.4" r="6.63"/>
<circle class="r" cx="705.8" cy="280.9" r="6.63"/>
<circle class="r" cx="637.1" cy="294.5" r="6.63"/>
<circle class="t" cx="785.0" cy="233.4" r="6.63"/>
<circle class="r" cx="790.0" cy="253.8" r="6.63"/>
<circle class="t" cx="796.4" cy="274.1" r="6.63"/>
<circle class="r" cx="496.2" cy="491.1" r="6.63"/>
<circle class="r" cx="677.5" cy="382.6" r="6.63"/>
<circle class="r" cx="636.3" cy="335.1" r="6.63"/>
<circle class="r" cx="223.8" cy="728.4" r="6.63"/>
<circle class="r" cx="623.8" cy="592.8" r="6.63"/>
<circle class="t" cx="786.2" cy="314.8" r="6.63"/>
<circle class="t" cx="697.7" cy="355.5" r="6.63"/>
<circle class="r" cx="837.5" cy="179.2" r="6.63"/>
<circle class="t" cx="726.4" cy="328.4" r="6.63"/>
<circle class="r" cx="643.9" cy="308.0" r="6.63"/>
<circle class="r" cx="530.0" cy="409.7" r="6.63"/>
<circle class="r" cx="732.5" cy="267.3" r="6.63"/>
<circle class="r" cx="705.5" cy="341.9" r="6.63"/>
<circle class="r" cx="723.8" cy="341.9" r="6.63"/>
<circle class="t" cx="761.2" cy="287.7" r="6.63"/>
<circle class="r" cx="612.7" cy="396.2" r="6.63"/>
<circle class="t" cx="850.0" cy="138.5" r="6.63"/>
<circle class="r" cx="709.3" cy="233.4" r="6.63"/>
<circle class="t" cx="835.6" cy="145.3" r="6.63"/>
<circle class="t" cx="797.5" cy="267.3" r="6.63"/>
<circle class="r" cx="540.0" cy="457.2" r="6.63"/>
<circle class="r" cx="927.5" cy="267.3" r="6.63"/>
<circle class="t" cx="770.0" cy="321.6" r="6.63"/>
<circle class="t" cx="715.1" cy="362.3" r="6.63"/>
<circle class="r" cx="686.5" cy="294.5" r="6.63"/>
<circle class="t" cx="770.0" cy="308.0" r="6.63"/>
<circle class="r" cx="576.5" cy="430.1" r="6.63"/>
<circle class="r" cx="677.6" cy="430.1" r="6.63"/>
<circle class="r" cx="951.2" cy="253.8" r="6.63"/>
<circle class="r" cx="685.3" cy="294.5" r="6.63"/>
<circle class="r" cx="545.7" cy="362.3" r="6.63"/>
<circle class="r" cx="818.1" cy="321.6" r="6.63"/>
<circle class="t" cx="700.8" cy="301.2" r="6.63"/>
<circle class="r" cx="505.0" cy="491.1" r="6.63"/>
<circle class="t" cx="838.1" cy="369.1" r="6.63"/>
<circle class="r" cx="196.5" cy="755.6" r="6.63"/>
<circle class="r" cx="678.7" cy="274.1" r="6.63"/>
<circle class="r" cx="697.0" cy="375.8" r="6.63"/>
<circle class="t" cx="785.0" cy="321.6" r="6.63"/>
<circle class="t" cx="887.5" cy="335.1" r="6.63"/>
<circle class="t" cx="851.2" cy="294.5" r="6.63"/>
<circle class="t" cx="736.0" cy="504.7" r="6.63"/>
<circle class="r" cx="964.2" cy="186.0" r="6.63"/>
<circle class="t" cx="758.8" cy="321.6" r="6.63"/>
<circle class="r" cx="916.2" cy="158.8" r="6.63"/>
<circle class="r" cx="558.5" cy="375.8" r="6.63"/>
<circle class="r" cx="245.0" cy="708.1" r="6.63"/>
<circle class="t" cx="830.0" cy="321.6" r="6.63"/>
<circle class="t" cx="757.6" cy="369.1" r="6.63"/>
<circle class="t" cx="743.9" cy="226.7" r="6.63"/>
<circle class="r" cx="797.5" cy="362.3" r="6.63"/>
<circle class="r" cx="544.7" cy="416.5" r="6.63"/>
<circle class="r" cx="717.9" cy="233.4" r="6.63"/>
<circle class="t" cx="776.2" cy="335.1" r="6.63"/>
<circle class="r" cx="886.2" cy="138.5" r="6.63"/>
<circle class="t" cx="832.5" cy="165.6" r="6.63"/>
<circle class="r" cx="639.7" cy="341.9" r="6.63"/>
<circle class="t" cx="761.2" cy="253.8" r="6.63"/>
<circle class="r" cx="473.8" cy="518.2" r="6.63"/>
<circle class="r" cx="700.2" cy="389.4" r="6.63"/>
<circle class="r" cx="481.2" cy="477.6" r="6.63"/>
<circle class="t" cx="728.8" cy="253.8" r="6.63"/>
<circle class="r" cx="795.0" cy="213.1" r="6.63"/>
<circle class="r" cx="679.6" cy="328.4" r="6.63"/>
<circle class="r" cx="556.2" cy="409.7" r="6.63"/>
<circle class="r" cx="875.0" cy="219.9" r="6.63"/>
<circle class="r" cx="644.5" cy="314.8" r="6.63"/>
<circle class="r" cx="723.8" cy="328.4" r="6.63"/>
<circle class="r" cx="692.6" cy="328.4" r="6.63"/>
<circle class="r" cx="940.0" cy="362.3" r="6.63"/>
<circle class="r" cx="727.5" cy="321.6" r="6.63"/>
<circle class="t" cx="792.5" cy="321.6" r="6.63"/>
<circle class="r" cx="745.0" cy="457.2" r="6.63"/>
<circle class="r" cx="663.6" cy="301.2" r="6.63"/>
<circle class="r" cx="780.6" cy="301.2" r="6.63"/>
<circle class="r" cx="668.6" cy="280.9" r="6.63"/>
<circle class="r" cx="885.0" cy="321.6" r="6.63"/>
<circle class="r" cx="660.4" cy="382.6" r="6.63"/>
<circle class="r" cx="760.0" cy="348.7" r="6.63"/>
<circle class="r" cx="703.0" cy="287.7" r="6.63"/>
<circle class="t" cx="663.0" cy="409.7" r="6.63"/>
<circle class="r" cx="762.5" cy="172.4" r="6.63"/>
<circle class="t" cx="830.1" cy="199.5" r="6.63"/>
<circle class="r" cx="248.0" cy="701.3" r="6.63"/>
<circle class="r" cx="523.8" cy="430.1" r="6.63"/>
<circle class="t" cx="736.2" cy="233.4" r="6.63"/>
<circle class="t" cx="743.8" cy="409.7" r="6.63"/>
<circle class="r" cx="516.9" cy="491.1" r="6.63"/>
<circle class="t" cx="830.0" cy="172.4" r="6.63"/>
<circle class="r" cx="698.9" cy="403.0" r="6.63"/>
<circle class="r" cx="667.5" cy="369.1" r="6.63"/>
<circle class="t" cx="782.5" cy="348.7" r="6.63"/>
<circle class="t" cx="901.0" cy="138.5" r="6.63"/>
<circle class="t" cx="812.5" cy="158.8" r="6.63"/>
<circle class="r" cx="797.5" cy="186.0" r="6.63"/>
<circle class="r" cx="725.0" cy="274.1" r="6.63"/>
<circle class="r" cx="863.8" cy="219.9" r="6.63"/>
<circle class="r" cx="840.0" cy="172.4" r="6.63"/>
<circle class="r" cx="745.0" cy="213.1" r="6.63"/>
<circle class="t" cx="800.0" cy="253.8" r="6.63"/>
<circle class="t" cx="820.1" cy="226.7" r="6.63"/>
<circle class="r" cx="537.5" cy="430.1" r="6.63"/>
<circle class="r" cx="627.7" cy="328.4" r="6.63"/>
<circle class="t" cx="860.1" cy="294.5" r="6.63"/>
<circle class="r" cx="556.7" cy="403.0" r="6.63"/>
<circle class="r" cx="845.0" cy="253.8" r="6.63"/>
<circle class="r" cx="807.5" cy="240.2" r="6.63"/>
<circle class="r" cx="842.5" cy="206.3" r="6.63"/>
<circle class="t" cx="963.0" cy="138.5" r="6.63"/>
<circle class="t" cx="476.2" cy="450.4" r="6.63"/>
<circle class="t" cx="811.2" cy="294.5" r="6.63"/>
<circle class="r" cx="747.5" cy="240.2" r="6.63"/>
<circle class="r" cx="710.6" cy="375.8" r="6.63"/>
<circle class="t" cx="808.9" cy="314.8" r="6.63"/>
<circle class="r" cx="828.8" cy="253.8" r="6.63"/>
<circle class="t" cx="758.9" cy="192.7" r="6.63"/>
<circle class="r" cx="760.0" cy="375.8" r="6.63"/>
<circle class="t" cx="705.6" cy="287.7" r="6.63"/>
<circle class="r" cx="527.5" cy="436.9" r="6.63"/>
<circle class="t" cx="622.6" cy="341.9" r="6.63"/>
<circle class="r" cx="693.0" cy="389.4" r="6.63"/>
<circle class="r" cx="520.3" cy="430.1" r="6.63"/>
<circle class="t" cx="674.5" cy="362.3" r="6.63"/>
<circle class="t" cx="845.0" cy="138.5" r="6.63"/>
<circle class="r" cx="574.8" cy="403.0" r="6.63"/>
<circle class="r" cx="671.3" cy="423.3" r="6.63"/>
<circle class="t" cx="709.9" cy="409.7" r="6.63"/>
<circle class="t" cx="788.9" cy="226.7" r="6.63"/>
<circle class="r" cx="650.4" cy="423.3" r="6.63"/>
<circle class="t" cx="572.6" cy="403.0" r="6.63"/>
<circle class="r" cx="979.5" cy="226.7" r="6.63"/>
<circle class="r" cx="776.2" cy="158.8" r="6.63"/>
<circle class="r" cx="644.5" cy="335.1" r="6.63"/>
<circle class="t" cx="775.0" cy="206.3" r="6.63"/>
<circle class="t" cx="716.3" cy="335.1" r="6.63"/>
<circle class="r" cx="796.2" cy="219.9" r="6.63"/>
<circle class="r" cx="617.8" cy="341.9" r="6.63"/>
<circle class="t" cx="807.5" cy="233.4" r="6.63"/>
<circle class="t" cx="718.1" cy="294.5" r="6.63"/>
<circle class="t" cx="660.1" cy="274.1" r="6.63"/>
<circle class="t" cx="623.2" cy="416.5" r="6.63"/>
<circle class="r" cx="520.0" cy="464.0" r="6.63"/>
<circle class="r" cx="699.0" cy="260.6" r="6.63"/>
<circle class="r" cx="678.5" cy="287.7" r="6.63"/>
<circle class="t" cx="736.2" cy="382.6" r="6.63"/>
<circle class="t" cx="822.5" cy="362.3" r="6.63"/>
<circle class="t" cx="726.5" cy="369.1" r="6.63"/>
<circle class="r" cx="590.0" cy="470.8" r="6.63"/>
<circle class="t" cx="727.5" cy="287.7" r="6.63"/>
<circle class="t" cx="689.6" cy="382.6" r="6.63"/>
<circle class="r" cx="628.9" cy="389.4" r="6.63"/>
<circle class="r" cx="518.1" cy="423.3" r="6.63"/>
<circle class="t" cx="760.0" cy="369.1" r="6.63"/>
<circle class="r" cx="775.0" cy="260.6" r="6.63"/>
<circle class="r" cx="623.8" cy="497.9" r="6.63"/>
<circle class="t" cx="742.5" cy="280.9" r="6.63"/>
<circle class="r" cx="615.0" cy="518.2" r="6.63"/>
<circle class="r" cx="639.0" cy="396.2" r="6.63"/>
<circle class="r" cx="767.5" cy="233.4" r="6.63"/>
<circle class="r" cx="970.5" cy="314.8" r="6.63"/>
<circle class="r" cx="626.0" cy="355.5" r="6.63"/>
<circle class="r" cx="624.7" cy="341.9" r="6.63"/>
<circle class="r" cx="506.9" cy="504.7" r="6.63"/>
<circle class="r" cx="726.4" cy="240.2" r="6.63"/>
<circle class="r" cx="721.2" cy="287.7" r="6.63"/>
<circle class="r" cx="628.3" cy="321.6" r="6.63"/>
<circle class="r" cx="581.5" cy="389.4" r="6.63"/>
<circle class="r" cx="935.0" cy="253.8" r="6.63"/>
<circle class="t" cx="762.5" cy="335.1" r="6.63"/>
<circle class="t" cx="830.0" cy="274.1" r="6.63"/>
<circle class="r" cx="740.1" cy="314.8" r="6.63"/>
<circle class="t" cx="888.8" cy="287.7" r="6.63"/>
<circle class="r" cx="496.9" cy="504.7" r="6.63"/>
<circle class="r" cx="613.5" cy="348.7" r="6.63"/>
<circle class="r" cx="651.1" cy="403.0" r="6.63"/>
<circle class="r" cx="696.1" cy="355.5" r="6.63"/>
<circle class="r" cx="540.0" cy="436.9" r="6.63"/>
<circle class="r" cx="565.6" cy="491.1" r="6.63"/>
<circle class="r" cx="521.2" cy="470.8" r="6.63"/>
<circle class="r" cx="697.8" cy="267.3" r="6.63"/>
<circle class="r" cx="527.5" cy="416.5" r="6.63"/>
<circle class="r" cx="605.0" cy="450.4" r="6.63"/>
<circle class="t" cx="887.0" cy="308.0" r="6.63"/>
<circle class="t" cx="671.6" cy="321.6" r="6.63"/>
<circle class="r" cx="572.3" cy="369.1" r="6.63"/>
<circle class="r" cx="645.6" cy="294.5" r="6.63"/>
<circle class="r" cx="563.8" cy="355.5" r="6.63"/>
<circle class="t" cx="772.5" cy="219.9" r="6.63"/>
<circle class="t" cx="656.5" cy="348.7" r="6.63"/>
<circle class="r" cx="706.4" cy="335.1" r="6.63"/>
<circle class="r" cx="735.0" cy="260.6" r="6.63"/>
<circle class="t" cx="658.6" cy="430.1" r="6.63"/>
<circle class="r" cx="612.6" cy="362.3" r="6.63"/>
<circle class="r" cx="147.4" cy="816.6" r="6.63"/>
<circle class="t" cx="751.2" cy="504.7" r="6.63"/>
<circle class="r" cx="728.8" cy="274.1" r="6.63"/>
<circle class="r" cx="624.7" cy="362.3" r="6.63"/>
<circle class="t" cx="735.1" cy="233.4" r="6.63"/>
<circle class="t" cx="667.6" cy="396.2" r="6.63"/>
<circle class="r" cx="259.2" cy="687.8" r="6.63"/>
<circle class="r" cx="761.2" cy="274.1" r="6.63"/>
<circle class="r" cx="525.0" cy="464.0" r="6.63"/>
<circle class="t" cx="740.0" cy="253.8" r="6.63"/>
<circle class="r" cx="526.2" cy="470.8" r="6.63"/>
<circle class="r" cx="579.5" cy="341.9" r="6.63"/>
<circle class="r" cx="656.1" cy="423.3" r="6.63"/>
<circle class="r" cx="643.4" cy="403.0" r="6.63"/>
<circle class="r" cx="612.5" cy="443.6" r="6.63"/>
<circle class="t" cx="845.0" cy="219.9" r="6.63"/>
<circle class="r" cx="722.5" cy="294.5" r="6.63"/>
<circle class="r" cx="639.5" cy="375.8" r="6.63"/>
<circle class="r" cx="475.0" cy="552.1" r="6.63"/>
<circle class="r" cx="525.0" cy="403.0" r="6.63"/>
<circle class="t" cx="763.9" cy="240.2" r="6.63"/>
<circle class="r" cx="781.2" cy="186.0" r="6.63"/>
<circle class="r" cx="508.8" cy="450.4" r="6.63"/>
<circle class="r" cx="951.8" cy="301.2" r="6.63"/>
<circle class="r" cx="605.5" cy="436.9" r="6.63"/>
<circle class="r" cx="672.5" cy="260.6" r="6.63"/>
<circle class="t" cx="822.5" cy="219.9" r="6.63"/>
<circle class="r" cx="501.2" cy="484.3" r="6.63"/>
<circle class="t" cx="753.8" cy="321.6" r="6.63"/>
<circle class="t" cx="820.0" cy="165.6" r="6.63"/>
<circle class="r" cx="588.8" cy="552.1" r="6.63"/>
<circle class="r" cx="686.8" cy="355.5" r="6.63"/>
<circle class="t" cx="805.0" cy="308.0" r="6.63"/>
<circle class="t" cx="740.0" cy="274.1" r="6.63"/>
<circle class="t" cx="820.0" cy="341.9" r="6.63"/>
<circle class="r" cx="858.9" cy="287.7" r="6.63"/>
<circle class="t" cx="685.5" cy="308.0" r="6.63"/>
<circle class="r" cx="699.0" cy="267.3" r="6.63"/>
<circle class="t" cx="856.2" cy="287.7" r="6.63"/>
<circle class="t" cx="718.6" cy="396.2" r="6.63"/>
<circle class="t" cx="647.7" cy="375.8" r="6.63"/>
<circle class="r" cx="581.1" cy="355.5" r="6.63"/>
<circle class="t" cx="647.3" cy="396.2" r="6.63"/>
<circle class="t" cx="849.4" cy="355.5" r="6.63"/>
<circle class="r" cx="772.5" cy="247.0" r="6.63"/>
<circle class="r" cx="491.2" cy="457.2" r="6.63"/>
<circle class="r" cx="582.5" cy="464.0" r="6.63"/>
<circle class="r" cx="612.5" cy="355.5" r="6.63"/>
<circle class="r" cx="540.0" cy="389.4" r="6.63"/>
<circle class="r" cx="527.5" cy="443.6" r="6.63"/>
<circle class="r" cx="860.0" cy="403.0" r="6.63"/>
<circle class="r" cx="216.8" cy="735.2" r="6.63"/>
<circle class="r" cx="306.0" cy="755.6" r="6.63"/>
<circle class="r" cx="656.8" cy="301.2" r="6.63"/>
<circle class="r" cx="648.7" cy="436.9" r="6.63"/>
<circle class="t" cx="501.9" cy="484.3" r="6.63"/>
<circle class="t" cx="770.1" cy="253.8" r="6.63"/>
<circle class="r" cx="855.0" cy="179.2" r="6.63"/>
<circle class="r" cx="547.5" cy="396.2" r="6.63"/>
<circle class="r" cx="780.0" cy="226.7" r="6.63"/>
<circle class="r" cx="586.9" cy="348.7" r="6.63"/>
<circle class="t" cx="662.7" cy="375.8" r="6.63"/>
<circle class="t" cx="751.2" cy="511.5" r="6.63"/>
<circle class="r" cx="605.0" cy="348.7" r="6.63"/>
<circle class="r" cx="596.0" cy="389.4" r="6.63"/>
<circle class="t" cx="676.7" cy="369.1" r="6.63"/>
<circle class="t" cx="751.2" cy="226.7" r="6.63"/>
<circle class="t" cx="632.9" cy="416.5" r="6.63"/>
<circle class="r" cx="626.9" cy="464.0" r="6.63"/>
<circle class="t" cx="737.6" cy="260.6" r="6.63"/>
<circle class="t" cx="429.5" cy="558.9" r="6.63"/>
<circle class="r" cx="637.8" cy="314.8" r="6.63"/>
<circle class="t" cx="747.6" cy="267.3" r="6.63"/>
<circle class="t" cx="822.6" cy="260.6" r="6.63"/>
<circle class="r" cx="515.0" cy="443.6" r="6.63"/>
<circle class="t" cx="908.8" cy="375.8" r="6.63"/>
<circle class="r" cx="628.8" cy="457.2" r="6.63"/>
<circle class="r" cx="560.0" cy="450.4" r="6.63"/>
<circle class="r" cx="738.8" cy="213.1" r="6.63"/>
<circle class="t" cx="725.0" cy="219.9" r="6.63"/>
<circle class="t" cx="817.6" cy="206.3" r="6.63"/>
<circle class="r" cx="495.0" cy="443.6" r="6.63"/>
<circle class="r" cx="626.9" cy="457.2" r="6.63"/>
<circle class="r" cx="687.9" cy="274.1" r="6.63"/>
<circle class="r" cx="931.2" cy="165.6" r="6.63"/>
<circle class="r" cx="625.5" cy="328.4" r="6.63"/>
<circle class="r" cx="565.2" cy="375.8" r="6.63"/>
<circle class="r" cx="688.7" cy="362.3" r="6.63"/>
<circle class="t" cx="843.8" cy="226.7" r="6.63"/>
<circle class="r" cx="847.6" cy="260.6" r="6.63"/>
<circle class="r" cx="696.9" cy="409.7" r="6.63"/>
<circle class="t" cx="827.5" cy="233.4" r="6.63"/>
<circle class="r" cx="788.8" cy="280.9" r="6.63"/>
<circle class="r" cx="497.5" cy="457.2" r="6.63"/>
<circle class="r" cx="665.0" cy="274.1" r="6.63"/>
<circle class="t" cx="616.1" cy="362.3" r="6.63"/>
<circle class="t" cx="748.9" cy="206.3" r="6.63"/>
<circle class="t" cx="903.8" cy="409.7" r="6.63"/>
<circle class="r" cx="715.8" cy="240.2" r="6.63"/>
<circle class="r" cx="563.8" cy="396.2" r="6.63"/>
<circle class="r" cx="619.8" cy="382.6" r="6.63"/>
<circle class="r" cx="903.8" cy="172.4" r="6.63"/>
<circle class="r" cx="556.7" cy="382.6" r="6.63"/>
<circle class="r" cx="657.6" cy="369.1" r="6.63"/>
<circle class="r" cx="820.0" cy="179.2" r="6.63"/>
<circle class="r" cx="561.8" cy="389.4" r="6.63"/>
<circle class="r" cx="667.4" cy="423.3" r="6.63"/>
<circle class="r" cx="693.0" cy="274.1" r="6.63"/>
<circle class="r" cx="147.4" cy="816.6" r="6.63"/>
<circle class="r" cx="687.0" cy="382.6" r="6.63"/>
<circle class="r" cx="605.6" cy="511.5" r="6.63"/>
<circle class="r" cx="657.2" cy="416.5" r="6.63"/>
<circle class="r" cx="802.5" cy="457.2" r="6.63"/>
<circle class="r" cx="576.3" cy="362.3" r="6.63"/>
<circle class="r" cx="830.0" cy="240.2" r="6.63"/>
<circle class="r" cx="680.0" cy="287.7" r="6.63"/>
<circle class="t" cx="822.6" cy="172.4" r="6.63"/>
<circle class="t" cx="730.0" cy="274.1" r="6.63"/>
<circle class="t" cx="742.5" cy="219.9" r="6.63"/>
<circle class="t" cx="750.0" cy="294.5" r="6.63"/>
<circle class="r" cx="609.8" cy="355.5" r="6.63"/>
<circle class="r" cx="683.3" cy="301.2" r="6.63"/>
<circle class="t" cx="953.0" cy="206.3" r="6.63"/>
<circle class="r" cx="666.2" cy="314.8" r="6.63"/>
<circle class="t" cx="856.9" cy="375.8" r="6.63"/>
<circle class="t" cx="771.4" cy="348.7" r="6.63"/>
<circle class="r" cx="506.2" cy="430.1" r="6.63"/>
<circle class="t" cx="735.6" cy="409.7" r="6.63"/>
<circle class="t" cx="548.7" cy="416.5" r="6.63"/>
<circle class="r" cx="746.2" cy="206.3" r="6.63"/>
<circle class="t" cx="730.0" cy="301.2" r="6.63"/>
<circle class="r" cx="625.0" cy="457.2" r="6.63"/>
<circle class="r" cx="449.4" cy="504.7" r="6.63"/>
<circle class="t" cx="896.0" cy="280.9" r="6.63"/>
<circle class="r" cx="938.0" cy="287.7" r="6.63"/>
<circle class="t" cx="695.6" cy="274.1" r="6.63"/>
<circle class="r" cx="810.6" cy="457.2" r="6.63"/>
<circle class="r" cx="731.2" cy="213.1" r="6.63"/>
<circle class="r" cx="727.5" cy="240.2" r="6.63"/>
<circle class="r" cx="635.2" cy="308.0" r="6.63"/>
<circle class="t" cx="837.5" cy="219.9" r="6.63"/>
<circle class="r" cx="770.0" cy="206.3" r="6.63"/>
<circle class="t" cx="674.7" cy="274.1" r="6.63"/>
<circle class="r" cx="565.4" cy="396.2" r="6.63"/>
<circle class="r" cx="711.0" cy="267.3" r="6.63"/>
<circle class="r" cx="777.5" cy="233.4" r="6.63"/>
<circle class="r" cx="500.0" cy="436.9" r="6.63"/>
<circle class="r" cx="795.0" cy="172.4" r="6.63"/>
<circle class="t" cx="553.8" cy="443.6" r="6.63"/>
<circle class="r" cx="501.2" cy="464.0" r="6.63"/>
<circle class="r" cx="723.8" cy="267.3" r="6.63"/>
<circle class="r" cx="668.1" cy="470.8" r="6.63"/>
<circle class="r" cx="932.5" cy="274.1" r="6.63"/>
<circle class="t" cx="783.8" cy="341.9" r="6.63"/>
<circle class="t" cx="716.3" cy="219.9" r="6.63"/>
<circle class="r" cx="855.0" cy="213.1" r="6.63"/>
<circle class="r" cx="918.8" cy="260.6" r="6.63"/>
<circle class="r" cx="767.5" cy="165.6" r="6.63"/>
<circle class="t" cx="906.2" cy="348.7" r="6.63"/>
<circle class="r" cx="480.0" cy="470.8" r="6.63"/>
<circle class="r" cx="546.5" cy="416.5" r="6.63"/>
<circle class="r" cx="656.3" cy="301.2" r="6.63"/>
<circle class="r" cx="551.5" cy="416.5" r="6.63"/>
<circle class="r" cx="753.8" cy="260.6" r="6.63"/>
<circle class="r" cx="574.9" cy="362.3" r="6.63"/>
<circle class="t" cx="778.8" cy="369.1" r="6.63"/>
<circle class="r" cx="841.9" cy="355.5" r="6.63"/>
<circle class="r" cx="672.1" cy="436.9" r="6.63"/>
<circle class="r" cx="806.6" cy="389.4" r="6.63"/>
<circle class="r" cx="817.5" cy="301.2" r="6.63"/>
<circle class="r" cx="863.8" cy="308.0" r="6.63"/>
<circle class="r" cx="695.0" cy="457.2" r="6.63"/>
<circle class="r" cx="545.0" cy="443.6" r="6.63"/>
<circle class="r" cx="535.0" cy="423.3" r="6.63"/>
<circle class="r" cx="735.0" cy="280.9" r="6.63"/>
<circle class="t" cx="807.5" cy="138.5" r="6.63"/>
<circle class="r" cx="510.0" cy="457.2" r="6.63"/>
<circle class="r" cx="762.5" cy="219.9" r="6.63"/>
<circle class="r" cx="793.8" cy="247.0" r="6.63"/>
<circle class="t" cx="930.1" cy="267.3" r="6.63"/>
<circle class="r" cx="535.0" cy="443.6" r="6.63"/>
<circle class="r" cx="723.8" cy="280.9" r="6.63"/>
<circle class="t" cx="687.2" cy="314.8" r="6.63"/>
<circle class="r" cx="147.4" cy="816.6" r="6.63"/>
<circle class="r" cx="731.2" cy="280.9" r="6.63"/>
<circle class="r" cx="610.8" cy="348.7" r="6.63"/>
<circle class="r" cx="660.0" cy="341.9" r="6.63"/>
<circle class="t" cx="818.8" cy="294.5" r="6.63"/>
<circle class="r" cx="791.2" cy="165.6" r="6.63"/>
<circle class="r" cx="689.1" cy="403.0" r="6.63"/>
<circle class="r" cx="820.0" cy="219.9" r="6.63"/>
<circle class="r" cx="730.0" cy="240.2" r="6.63"/>
<circle class="t" cx="790.0" cy="199.5" r="6.63"/>
<circle class="r" cx="578.8" cy="369.1" r="6.63"/>
<circle class="r" cx="690.2" cy="369.1" r="6.63"/>
<circle class="r" cx="778.8" cy="362.3" r="6.63"/>
<circle class="t" cx="778.8" cy="287.7" r="6.63"/>
<circle class="t" cx="722.4" cy="362.3" r="6.63"/>
<circle class="r" cx="646.7" cy="369.1" r="6.63"/>
<circle class="r" cx="625.5" cy="369.1" r="6.63"/>
<circle class="t" cx="682.7" cy="362.3" r="6.63"/>
<circle class="r" cx="714.5" cy="423.3" r="6.63"/>
<circle class="r" cx="699.5" cy="260.6" r="6.63"/>
<circle class="r" cx="653.4" cy="287.7" r="6.63"/>
<circle class="t" cx="790.0" cy="314.8" r="6.63"/>
<circle class="r" cx="577.8" cy="375.8" r="6.63"/>
<circle class="r" cx="506.2" cy="450.4" r="6.63"/>
<circle class="r" cx="670.1" cy="308.0" r="6.63"/>
<circle class="r" cx="559.5" cy="416.5" r="6.63"/>
<circle class="r" cx="756.2" cy="341.9" r="6.63"/>
<circle class="r" cx="193.0" cy="762.4" r="6.63"/>
<circle class="r" cx="515.6" cy="504.7" r="6.63"/>
<circle class="r" cx="552.5" cy="464.0" r="6.63"/>
<circle class="r" cx="756.2" cy="192.7" r="6.63"/>
<circle class="t" cx="840.0" cy="369.1" r="6.63"/>
<circle class="r" cx="356.8" cy="620.0" r="6.63"/>
<circle class="r" cx="756.2" cy="233.4" r="6.63"/>
<circle class="r" cx="735.0" cy="226.7" r="6.63"/>
<circle class="r" cx="622.4" cy="321.6" r="6.63"/>
<circle class="t" cx="746.9" cy="186.0" r="6.63"/>
<circle class="r" cx="720.0" cy="260.6" r="6.63"/>
<circle class="t" cx="835.1" cy="138.5" r="6.63"/>
<circle class="r" cx="793.8" cy="240.2" r="6.63"/>
<circle class="r" cx="637.9" cy="355.5" r="6.63"/>
<circle class="r" cx="533.8" cy="436.9" r="6.63"/>
<circle class="t" cx="732.5" cy="375.8" r="6.63"/>
<circle class="r" cx="470.0" cy="497.9" r="6.63"/>
<circle class="t" cx="730.0" cy="389.4" r="6.63"/>
<circle class="r" cx="736.2" cy="335.1" r="6.63"/>
<circle class="r" cx="440.0" cy="497.9" r="6.63"/>
<circle class="t" cx="671.1" cy="321.6" r="6.63"/>
<circle class="t" cx="601.0" cy="369.1" r="6.63"/>
<circle class="r" cx="641.3" cy="348.7" r="6.63"/>
<circle class="r" cx="790.6" cy="172.4" r="6.63"/>
<circle class="r" cx="832.5" cy="253.8" r="6.63"/>
<circle class="r" cx="706.3" cy="240.2" r="6.63"/>
<circle class="r" cx="747.5" cy="362.3" r="6.63"/>
<circle class="r" cx="616.9" cy="369.1" r="6.63"/>
<circle class="r" cx="763.8" cy="260.6" r="6.63"/>
<circle class="r" cx="880.0" cy="314.8" r="6.63"/>
<circle class="r" cx="487.5" cy="525.0" r="6.63"/>
<circle class="t" cx="858.9" cy="226.7" r="6.63"/>
<circle class="r" cx="563.3" cy="396.2" r="6.63"/>
<circle class="r" cx="810.6" cy="464.0" r="6.63"/>
<circle class="r" cx="850.0" cy="301.2" r="6.63"/>
<circle class="r" cx="820.0" cy="172.4" r="6.63"/>
<circle class="r" cx="587.3" cy="430.1" r="6.63"/>
<circle class="r" cx="694.9" cy="430.1" r="6.63"/>
<circle class="r" cx="887.5" cy="260.6" r="6.63"/>
<circle class="r" cx="527.5" cy="423.3" r="6.63"/>
<circle class="t" cx="736.2" cy="355.5" r="6.63"/>
<circle class="r" cx="528.1" cy="511.5" r="6.63"/>
<circle class="t" cx="658.2" cy="409.7" r="6.63"/>
<circle class="r" cx="573.7" cy="355.5" r="6.63"/>
<circle class="r" cx="516.3" cy="430.1" r="6.63"/>
<circle class="r" cx="652.8" cy="301.2" r="6.63"/>
<circle class="r" cx="631.2" cy="457.2" r="6.63"/>
<circle class="r" cx="565.0" cy="477.6" r="6.63"/>
<circle class="t" cx="770.0" cy="274.1" r="6.63"/>
<circle class="t" cx="751.2" cy="247.0" r="6.63"/>
<circle class="r" cx="700.9" cy="423.3" r="6.63"/>
<circle class="r" cx="690.9" cy="253.8" r="6.63"/>
<circle class="r" cx="515.0" cy="430.1" r="6.63"/>
<circle class="r" cx="595.9" cy="409.7" r="6.63"/>
<circle class="t" cx="593.0" cy="362.3" r="6.63"/>
<circle class="r" cx="588.0" cy="335.1" r="6.63"/>
<circle class="r" cx="767.5" cy="253.8" r="6.63"/>
<circle class="t" cx="923.4" cy="213.1" r="6.63"/>
<circle class="r" cx="715.1" cy="382.6" r="6.63"/>
<circle class="r" cx="864.4" cy="403.0" r="6.63"/>
<circle class="t" cx="847.5" cy="138.5" r="6.63"/>
<circle class="r" cx="538.8" cy="416.5" r="6.63"/>
<circle class="r" cx="854.4" cy="165.6" r="6.63"/>
<circle class="r" cx="686.5" cy="335.1" r="6.63"/>
<circle class="r" cx="684.4" cy="280.9" r="6.63"/>
<circle class="r" cx="543.8" cy="430.1" r="6.63"/>
<circle class="t" cx="861.2" cy="247.0" r="6.63"/>
<circle class="r" cx="510.0" cy="525.0" r="6.63"/>
<circle class="r" cx="620.6" cy="416.5" r="6.63"/>
<circle class="r" cx="593.8" cy="416.5" r="6.63"/>
<circle class="r" cx="647.8" cy="247.0" r="6.63"/>
<circle class="r" cx="695.5" cy="294.5" r="6.63"/>
<circle class="r" cx="605.0" cy="477.6" r="6.63"/>
<circle class="r" cx="650.1" cy="348.7" r="6.63"/>
<circle class="r" cx="850.0" cy="260.6" r="6.63"/>
<circle class="t" cx="817.5" cy="240.2" r="6.63"/>
<circle class="r" cx="820.0" cy="186.0" r="6.63"/>
<circle class="t" cx="772.5" cy="253.8" r="6.63"/>
<circle class="r" cx="615.6" cy="470.8" r="6.63"/>
<circle class="r" cx="502.5" cy="443.6" r="6.63"/>
<circle class="r" cx="644.9" cy="423.3" r="6.63"/>
<circle class="r" cx="674.8" cy="436.9" r="6.63"/>
<circle class="r" cx="575.0" cy="369.1" r="6.63"/>
<circle class="r" cx="675.7" cy="389.4" r="6.63"/>
<circle class="t" cx="716.9" cy="301.2" r="6.63"/>
<circle class="r" cx="668.4" cy="253.8" r="6.63"/>
<circle class="r" cx="726.2" cy="219.9" r="6.63"/>
<circle class="r" cx="569.6" cy="369.1" r="6.63"/>
<circle class="r" cx="611.0" cy="341.9" r="6.63"/>
<circle class="r" cx="582.8" cy="369.1" r="6.63"/>
<circle class="r" cx="635.9" cy="321.6" r="6.63"/>
<circle class="r" cx="720.0" cy="274.1" r="6.63"/>
<circle class="r" cx="576.2" cy="450.4" r="6.63"/>
<circle class="t" cx="851.2" cy="192.7" r="6.63"/>
<circle class="r" cx="550.3" cy="423.3" r="6.63"/>
<circle class="r" cx="699.9" cy="240.2" r="6.63"/>
<circle class="t" cx="765.0" cy="287.7" r="6.63"/>
<circle class="r" cx="876.2" cy="186.0" r="6.63"/>
<circle class="r" cx="641.7" cy="335.1" r="6.63"/>
<circle class="t" cx="699.4" cy="538.6" r="6.63"/>
<circle class="t" cx="712.1" cy="341.9" r="6.63"/>
<circle class="r" cx="736.2" cy="308.0" r="6.63"/>
<circle class="r" cx="636.5" cy="314.8" r="6.63"/>
<circle class="t" cx="878.8" cy="335.1" r="6.63"/>
<circle class="r" cx="667.0" cy="382.6" r="6.63"/>
<circle class="r" cx="460.6" cy="531.8" r="6.63"/>
<circle class="r" cx="802.5" cy="321.6" r="6.63"/>
<circle class="t" cx="702.5" cy="328.4" r="6.63"/>
<circle class="t" cx="915.0" cy="138.5" r="6.63"/>
<circle class="r" cx="745.0" cy="233.4" r="6.63"/>
<circle class="r" cx="632.3" cy="321.6" r="6.63"/>
<circle class="r" cx="607.8" cy="369.1" r="6.63"/>
<circle class="r" cx="566.3" cy="362.3" r="6.63"/>
<circle class="t" cx="689.1" cy="348.7" r="6.63"/>
<circle class="r" cx="523.0" cy="430.1" r="6.63"/>
<circle class="r" cx="697.8" cy="348.7" r="6.63"/>
<circle class="t" cx="793.8" cy="233.4" r="6.63"/>
<circle class="t" cx="737.5" cy="314.8" r="6.63"/>
<circle class="r" cx="627.8" cy="341.9" r="6.63"/>
<circle class="r" cx="565.6" cy="369.1" r="6.63"/>
<circle class="r" cx="609.9" cy="389.4" r="6.63"/>
<circle class="r" cx="614.8" cy="328.4" r="6.63"/>
<circle class="t" cx="877.5" cy="267.3" r="6.63"/>
<circle class="t" cx="857.5" cy="219.9" r="6.63"/>
<circle class="r" cx="777.5" cy="247.0" r="6.63"/>
<circle class="r" cx="644.1" cy="382.6" r="6.63"/>
<circle class="r" cx="686.7" cy="396.2" r="6.63"/>
<circle class="r" cx="757.5" cy="260.6" r="6.63"/>
<circle class="r" cx="953.0" cy="219.9" r="6.63"/>
<circle class="t" cx="806.2" cy="226.7" r="6.63"/>
<circle class="r" cx="709.2" cy="274.1" r="6.63"/>
<circle class="r" cx="556.6" cy="396.2" r="6.63"/>
<circle class="r" cx="712.2" cy="240.2" r="6.63"/>
<circle class="r" cx="585.0" cy="443.6" r="6.63"/>
<circle class="r" cx="772.6" cy="274.1" r="6.63"/>
<circle class="r" cx="702.0" cy="308.0" r="6.63"/>
<circle class="r" cx="840.0" cy="253.8" r="6.63"/>
<circle class="r" cx="618.8" cy="341.9" r="6.63"/>
<circle class="t" cx="732.5" cy="362.3" r="6.63"/>
<circle class="r" cx="832.5" cy="138.5" r="6.63"/>
<circle class="t" cx="560.7" cy="382.6" r="6.63"/>
</g>
<path d="M147.5 778.2L159.1 768.6L170.7 758.9L182.3 749.1L193.9 739.3L205.5 729.4L217.2 719.4L228.8 709.3L240.4 699.2L252.0 689.1L263.6 678.9L275.2 668.7L286.8 658.3L298.4 647.9L310.0 637.5L321.6 626.9L333.2 616.3L344.9 605.7L356.5 595.0L368.1 584.4L379.7 573.9L391.3 563.4L402.9 552.9L414.5 542.4L426.1 532.0L437.7 521.4L449.3 510.9L460.9 500.6L472.5 490.3L484.2 480.0L495.8 469.6L507.4 459.2L519.0 448.9L530.6 438.9L542.2 429.2L553.8 419.9L565.4 410.9L577.0 402.2L588.6 393.8L600.2 385.5L611.9 377.5L623.5 369.6L635.1 361.7L646.7 353.7L658.3 345.7L669.9 337.4L681.5 329.0L693.1 320.1L704.7 311.0L716.3 301.5L727.9 291.9L739.6 282.5L751.2 273.5L762.8 265.0L774.4 257.4L786.0 250.7L797.6 245.3L809.2 241.3L820.8 238.6L832.4 237.0L844.0 236.4L855.6 236.4L867.2 237.0L878.9 237.5L890.5 238.1L902.1 238.5L913.7 238.5L925.3 238.0L936.9 237.1L948.5 235.7L960.1 233.9L971.7 231.6L983.3 228.6L994.9 224.8L1006.6 220.5L1018.2 215.6L1029.8 210.5L1041.4 205.1L1053.0 199.4L1064.6 193.5L1064.6 307.5L1053.0 302.2L1041.4 297.2L1029.8 292.6L1018.2 288.1L1006.6 283.9L994.9 280.1L983.3 276.6L971.7 273.7L960.1 271.1L948.5 268.7L936.9 266.3L925.3 264.0L913.7 261.5L902.1 259.0L890.5 256.6L878.9 254.3L867.2 252.4L855.6 251.3L844.0 250.9L832.4 251.3L820.8 252.7L809.2 255.3L797.6 259.3L786.0 264.7L774.4 271.4L762.8 279.0L751.2 287.5L739.6 296.5L727.9 305.9L716.3 315.5L704.7 325.0L693.1 334.2L681.5 343.1L669.9 351.8L658.3 360.2L646.7 368.6L635.1 376.8L623.5 385.0L611.9 393.3L600.2 401.5L588.6 409.9L577.0 418.5L565.4 427.4L553.8 436.6L542.2 446.2L530.6 456.3L519.0 466.9L507.4 477.8L495.8 489.1L484.2 500.6L472.5 512.3L460.9 524.2L449.3 536.0L437.7 547.7L426.1 559.4L414.5 571.1L402.9 582.9L391.3 594.7L379.7 606.4L368.1 618.1L356.5 629.7L344.9 641.2L333.2 652.8L321.6 664.3L310.0 675.9L298.4 687.5L286.8 699.2L275.2 710.9L263.6 722.6L252.0 734.3L240.4 746.0L228.8 757.8L217.2 769.5L205.5 781.3L193.9 793.1L182.3 804.8L170.7 816.6L159.1 828.4L147.5 840.2Z" fill="#878787" fill-opacity=".4"/><path d="M147.5 809.2L159.1 798.5L170.7 787.7L182.3 777.0L193.9 766.2L205.5 755.3L217.2 744.5L228.8 733.6L240.4 722.6L252.0 711.7L263.6 700.7L275.2 689.8L286.8 678.7L298.4 667.7L310.0 656.7L321.6 645.6L333.2 634.5L344.9 623.5L356.5 612.4L368.1 601.3L379.7 590.1L391.3 579.0L402.9 567.9L414.5 556.8L426.1 545.7L437.7 534.6L449.3 523.5L460.9 512.4L472.5 501.3L484.2 490.3L495.8 479.3L507.4 468.5L519.0 457.9L530.6 447.6L542.2 437.7L553.8 428.2L565.4 419.1L577.0 410.3L588.6 401.8L600.2 393.5L611.9 385.4L623.5 377.3L635.1 369.2L646.7 361.1L658.3 353.0L669.9 344.6L681.5 336.0L693.1 327.2L704.7 318.0L716.3 308.5L727.9 298.9L739.6 289.5L751.2 280.5L762.8 272.0L774.4 264.4L786.0 257.7L797.6 252.3L809.2 248.3L820.8 245.7L832.4 244.2L844.0 243.6L855.6 243.9L867.2 244.7L878.9 245.9L890.5 247.3L902.1 248.8L913.7 250.0L925.3 251.0L936.9 251.7L948.5 252.2L960.1 252.5L971.7 252.6L983.3 252.6L994.9 252.4L1006.6 252.2L1018.2 251.9L1029.8 251.5L1041.4 251.2L1053.0 250.8L1064.6 250.5" fill="none" stroke="#2646FA" stroke-width="5.69" stroke-linejoin="round"/>
</g>
<rect x="102.21" y="104.11" width="1008.38" height="771.18" fill="none" stroke="#262626" stroke-width="1.42"/>
<path d="M147.40 876.00v7.33M298.70 876.00v7.33M450.00 876.00v7.33M601.30 876.00v7.33M752.60 876.00v7.33M903.90 876.00v7.33M1055.20 876.00v7.33M101.50 816.60h-7.33M101.50 647.08h-7.33M101.50 477.55h-7.33M101.50 308.03h-7.33M101.50 138.50h-7.33" stroke="#1f1f1f" stroke-width="2.85" fill="none"/>
<text class="tk" x="147.40" y="905.6" text-anchor="middle">0</text>
<text class="tk" x="298.70" y="905.6" text-anchor="middle">2</text>
<text class="tk" x="450.00" y="905.6" text-anchor="middle">4</text>
<text class="tk" x="601.30" y="905.6" text-anchor="middle">6</text>
<text class="tk" x="752.60" y="905.6" text-anchor="middle">8</text>
<text class="tk" x="903.90" y="905.6" text-anchor="middle">10</text>
<text class="tk" x="1055.20" y="905.6" text-anchor="middle">12</text>
<text class="tk" x="88.3" y="826.10" text-anchor="end">0</text>
<text class="tk" x="88.3" y="656.58" text-anchor="end">25</text>
<text class="tk" x="88.3" y="487.05" text-anchor="end">50</text>
<text class="tk" x="88.3" y="317.53" text-anchor="end">75</text>
<text class="tk" x="88.3" y="148.00" text-anchor="end">100</text>
<text x="101.4" y="40.2" font-size="35.2px">Sleep Quality vs. Hours of Sleep</text>
<text x="101.4" y="82.6" font-size="29.33px" textLength="588.3" lengthAdjust="spacing">Source: iPhone sleep cycle data (2014-2018)</text>
<text x="605.8" y="939.7" font-size="29.33px" text-anchor="middle">Hours of Sleep</text>
<text transform="translate(34.6,489.9) rotate(-90)" font-size="29.33px" text-anchor="middle">Sleep Quality</text>
<rect x="1154.9" y="465" width="46.1" height="92.2" fill="#CFCFCF"/>
<circle cx="1178" cy="487.70" r="6.63" fill="#F35E5A" stroke="#F35E5A" fill-opacity=".3" stroke-opacity=".3" stroke-width="1.89"/>
<path d="M1159.6 487.70H1196.4" stroke="#F35E5A" stroke-width="5.69"/>
<text x="1215.7" y="496.60" font-size="23.47px">Weekday</text>
<circle cx="1178" cy="533.78" r="6.63" fill="#18B1B5" stroke="#18B1B5" fill-opacity=".3" stroke-opacity=".3" stroke-width="1.89"/>
<path d="M1159.6 533.78H1196.4" stroke="#17B3B7" stroke-width="5.69"/>
<text x="1215.7" y="542.68" font-size="23.47px">Weekend</text>
</svg></body></html>
